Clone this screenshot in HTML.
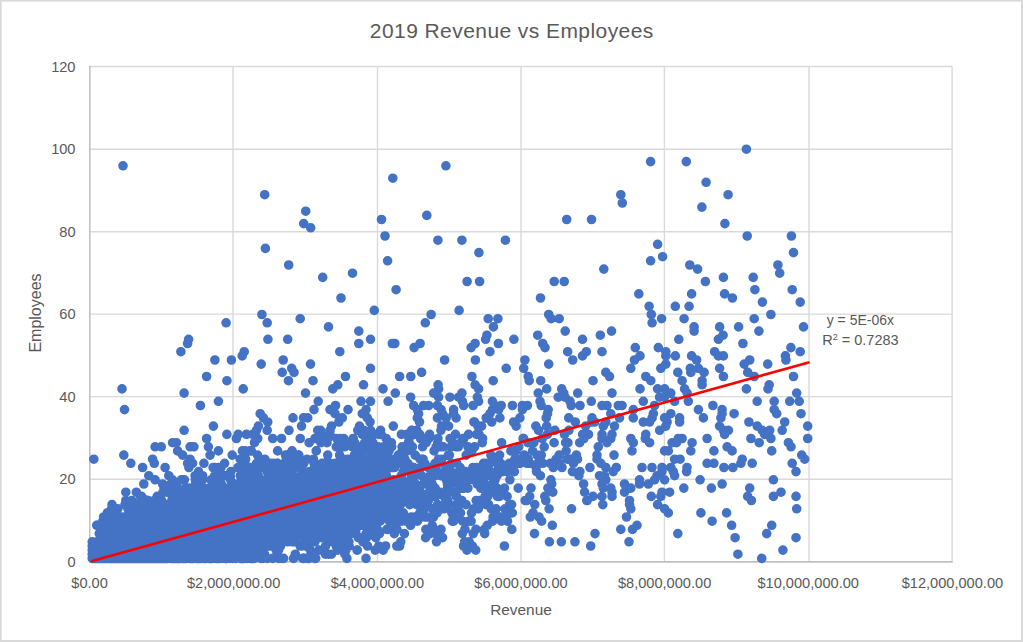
<!DOCTYPE html>
<html><head><meta charset="utf-8"><title>2019 Revenue vs Employees</title>
<style>
html,body{margin:0;padding:0;background:#fff;}
body{width:1023px;height:642px;overflow:hidden;font-family:"Liberation Sans",sans-serif;}
svg{display:block;}
text{font-family:"Liberation Sans",sans-serif;fill:#595959;}
</style></head><body>
<svg width="1023" height="642" viewBox="0 0 1023 642">
<rect x="0" y="0" width="1023" height="642" fill="#d9d9d9"/>
<rect x="1.7" y="1.6" width="1019.3" height="638.4" fill="#ffffff"/>
<g stroke="#d9d9d9" stroke-width="1.4" fill="none"><line x1="233.0" y1="66.5" x2="233.0" y2="561.7"/><line x1="377.5" y1="66.5" x2="377.5" y2="561.7"/><line x1="521.0" y1="66.5" x2="521.0" y2="561.7"/><line x1="664.4" y1="66.5" x2="664.4" y2="561.7"/><line x1="809.0" y1="66.5" x2="809.0" y2="561.7"/><line x1="952.1" y1="66.5" x2="952.1" y2="561.7"/><line x1="89.8" y1="66.5" x2="952.1" y2="66.5"/><line x1="89.8" y1="149.2" x2="952.1" y2="149.2"/><line x1="89.8" y1="231.7" x2="952.1" y2="231.7"/><line x1="89.8" y1="314.1" x2="952.1" y2="314.1"/><line x1="89.8" y1="396.6" x2="952.1" y2="396.6"/><line x1="89.8" y1="479.2" x2="952.1" y2="479.2"/></g>
<line x1="89.8" y1="65.8" x2="89.8" y2="562.7" stroke="#bfbfbf" stroke-width="1.5"/>
<line x1="89.05" y1="561.9" x2="952.8" y2="561.9" stroke="#bfbfbf" stroke-width="1.9"/>
<path d="M120.6 533.6h.01M262.6 508.8h.01M249.1 537.7h.01M261.9 517.0h.01M528.2 459.2h.01M266.6 517.0h.01M298.8 455.1h.01M273.6 500.5h.01M172.5 517.0h.01M233.1 533.6h.01M152.1 541.8h.01M393.8 479.8h.01M149.9 554.2h.01M235.2 521.2h.01M320.7 475.7h.01M141.9 529.4h.01M221.4 541.8h.01M143.9 550.1h.01M584.6 492.2h.01M419.7 434.4h.01M254.7 484.0h.01M246.5 479.8h.01M92.6 558.4h.01M184.0 541.8h.01M116.0 554.2h.01M424.8 438.5h.01M341.2 504.6h.01M179.2 512.9h.01M313.5 459.2h.01M283.2 525.3h.01M316.6 504.6h.01M335.7 496.4h.01M177.0 537.7h.01M375.0 492.2h.01M115.1 554.2h.01M476.2 500.5h.01M116.1 541.8h.01M163.0 492.2h.01M148.0 546.0h.01M96.2 558.4h.01M166.6 558.4h.01M325.7 500.5h.01M585.6 426.1h.01M318.3 525.3h.01M159.6 541.8h.01M112.3 550.1h.01M384.0 463.3h.01M381.2 467.5h.01M133.1 554.2h.01M227.6 541.8h.01M297.8 517.0h.01M185.8 529.4h.01M336.2 546.0h.01M110.2 558.4h.01M453.3 517.0h.01M111.9 537.7h.01M505.8 517.0h.01M139.4 546.0h.01M117.0 550.1h.01M186.1 496.4h.01M105.1 537.7h.01M173.3 554.2h.01M124.4 558.4h.01M433.0 467.5h.01M263.7 541.8h.01M185.3 541.8h.01M417.2 504.6h.01M122.0 554.2h.01M99.6 546.0h.01M357.9 446.8h.01M248.4 504.6h.01M252.6 512.9h.01M477.1 484.0h.01M305.8 488.1h.01M360.6 521.2h.01M207.0 508.8h.01M369.0 459.2h.01M163.3 512.9h.01M134.9 546.0h.01M165.2 554.2h.01M226.4 533.6h.01M107.2 554.2h.01M234.0 521.2h.01M160.4 533.6h.01M174.3 537.7h.01M380.9 504.6h.01M155.2 550.1h.01M137.6 550.1h.01M97.1 546.0h.01M170.6 546.0h.01M92.2 558.4h.01M115.3 554.2h.01M144.9 546.0h.01M100.6 558.4h.01M377.2 450.9h.01M355.8 492.2h.01M131.9 550.1h.01M267.0 471.6h.01M102.9 558.4h.01M535.8 426.1h.01M303.7 529.4h.01M389.7 442.7h.01M108.3 558.4h.01M111.0 550.1h.01M128.2 558.4h.01M385.3 488.1h.01M217.6 550.1h.01M371.7 496.4h.01M195.0 525.3h.01M468.0 446.8h.01M235.6 537.7h.01M175.9 525.3h.01M417.9 492.2h.01M104.5 550.1h.01M120.1 554.2h.01M115.6 558.4h.01M238.4 529.4h.01M196.5 533.6h.01M209.0 558.4h.01M176.6 558.4h.01M206.9 517.0h.01M139.1 537.7h.01M99.2 533.6h.01M110.3 537.7h.01M235.8 488.1h.01M138.7 529.4h.01M129.3 546.0h.01M99.9 558.4h.01M371.0 442.7h.01M251.1 517.0h.01M290.0 504.6h.01M206.8 550.1h.01M362.0 467.5h.01M298.6 467.5h.01M282.2 521.2h.01M134.5 554.2h.01M107.1 558.4h.01M279.8 508.8h.01M93.2 550.1h.01M214.1 537.7h.01M162.7 554.2h.01M286.0 492.2h.01M238.0 508.8h.01M123.8 554.2h.01M104.4 558.4h.01M177.9 537.7h.01M254.9 504.6h.01M317.3 521.2h.01M111.5 546.0h.01M257.5 455.1h.01M400.8 541.8h.01M409.0 438.5h.01M222.2 517.0h.01M172.3 533.6h.01M354.2 492.2h.01M358.5 446.8h.01M374.8 521.2h.01M205.0 525.3h.01M256.6 517.0h.01M196.1 554.2h.01M385.9 471.6h.01M161.6 537.7h.01M243.5 546.0h.01M259.5 550.1h.01M562.0 467.5h.01M188.8 541.8h.01M130.2 558.4h.01M280.5 508.8h.01M147.3 537.7h.01M168.2 537.7h.01M281.8 525.3h.01M526.9 463.3h.01M326.8 496.4h.01M536.5 471.6h.01M426.2 442.7h.01M283.1 471.6h.01M140.4 533.6h.01M101.3 554.2h.01M300.1 496.4h.01M105.8 537.7h.01M294.3 521.2h.01M101.4 550.1h.01M165.6 537.7h.01M417.0 488.1h.01M380.5 500.5h.01M348.0 496.4h.01M275.7 521.2h.01M269.9 496.4h.01M239.9 517.0h.01M229.9 529.4h.01M92.2 554.2h.01M168.9 517.0h.01M182.6 504.6h.01M129.2 541.8h.01M155.4 554.2h.01M123.0 541.8h.01M110.7 546.0h.01M239.7 546.0h.01M242.7 529.4h.01M179.9 541.8h.01M187.8 533.6h.01M422.3 496.4h.01M314.2 541.8h.01M275.1 529.4h.01M181.0 529.4h.01M365.9 471.6h.01M150.1 533.6h.01M312.4 475.7h.01M321.2 492.2h.01M208.6 541.8h.01M112.6 550.1h.01M255.1 533.6h.01M533.0 512.9h.01M244.8 463.3h.01M128.7 550.1h.01M413.2 484.0h.01M328.9 512.9h.01M119.2 546.0h.01M456.6 496.4h.01M575.3 422.0h.01M244.0 525.3h.01M163.5 541.8h.01M347.7 467.5h.01M154.7 550.1h.01M295.6 529.4h.01M365.1 434.4h.01M201.9 529.4h.01M452.9 442.7h.01M121.2 537.7h.01M287.6 541.8h.01M313.0 488.1h.01M172.8 550.1h.01M102.6 554.2h.01M269.2 467.5h.01M345.4 488.1h.01M177.8 525.3h.01M92.2 558.4h.01M159.1 533.6h.01M216.4 558.4h.01M363.4 512.9h.01M135.1 558.4h.01M197.4 550.1h.01M310.8 529.4h.01M380.0 504.6h.01M409.4 496.4h.01M95.8 550.1h.01M232.9 500.5h.01M301.0 512.9h.01M223.5 537.7h.01M233.7 504.6h.01M242.1 521.2h.01M176.5 546.0h.01M194.7 537.7h.01M243.7 525.3h.01M366.5 488.1h.01M108.7 550.1h.01M199.3 521.2h.01M532.6 450.9h.01M276.6 525.3h.01M251.9 537.7h.01M178.0 533.6h.01M123.9 558.4h.01M448.6 426.1h.01M124.5 517.0h.01M150.3 554.2h.01M98.2 558.4h.01M93.9 550.1h.01M208.4 521.2h.01M172.5 479.8h.01M271.1 533.6h.01M341.9 512.9h.01M328.9 508.8h.01M460.5 512.9h.01M183.7 546.0h.01M290.9 525.3h.01M320.4 508.8h.01M364.6 512.9h.01M518.2 488.1h.01M116.8 546.0h.01M229.5 525.3h.01M327.6 488.1h.01M218.9 541.8h.01M198.8 546.0h.01M157.1 541.8h.01M173.7 504.6h.01M327.4 484.0h.01M340.1 488.1h.01M148.8 558.4h.01M127.5 550.1h.01M226.0 496.4h.01M264.7 500.5h.01M382.7 492.2h.01M299.5 500.5h.01M118.4 558.4h.01M160.1 558.4h.01M277.7 508.8h.01M240.7 500.5h.01M270.1 525.3h.01M361.9 504.6h.01M265.1 533.6h.01M330.0 517.0h.01M370.5 533.6h.01M109.0 558.4h.01M105.3 533.6h.01M96.7 550.1h.01M246.9 504.6h.01M320.7 521.2h.01M466.2 455.1h.01M208.0 525.3h.01M147.9 537.7h.01M321.6 517.0h.01M492.5 484.0h.01M249.0 508.8h.01M143.8 546.0h.01M334.6 492.2h.01M135.2 541.8h.01M201.8 546.0h.01M410.9 479.8h.01M124.0 558.4h.01M398.2 521.2h.01M249.6 533.6h.01M121.9 550.1h.01M100.1 558.4h.01M288.1 521.2h.01M279.4 488.1h.01M94.2 558.4h.01M283.6 558.4h.01M92.2 558.4h.01M186.4 529.4h.01M184.5 537.7h.01M116.6 537.7h.01M190.6 525.3h.01M92.5 554.2h.01M215.5 521.2h.01M127.3 537.7h.01M255.5 529.4h.01M100.9 558.4h.01M292.2 504.6h.01M298.7 455.1h.01M128.6 546.0h.01M203.2 558.4h.01M399.6 546.0h.01M353.5 500.5h.01M339.6 455.1h.01M223.6 521.2h.01M97.6 558.4h.01M166.2 517.0h.01M383.1 496.4h.01M175.4 508.8h.01M305.7 537.7h.01M170.0 541.8h.01M361.8 500.5h.01M232.3 508.8h.01M118.7 529.4h.01M200.5 529.4h.01M161.5 529.4h.01M194.4 541.8h.01M101.1 558.4h.01M108.1 554.2h.01M92.2 550.1h.01M215.5 521.2h.01M196.1 554.2h.01M301.6 508.8h.01M177.3 496.4h.01M236.8 529.4h.01M336.1 500.5h.01M159.9 521.2h.01M299.7 517.0h.01M136.5 546.0h.01M294.7 525.3h.01M437.0 471.6h.01M419.9 512.9h.01M197.0 521.2h.01M530.3 517.0h.01M295.5 525.3h.01M323.6 529.4h.01M202.1 521.2h.01M525.2 500.5h.01M484.5 484.0h.01M246.1 529.4h.01M150.7 525.3h.01M125.7 546.0h.01M362.5 492.2h.01M228.7 488.1h.01M96.8 541.8h.01M211.0 517.0h.01M107.6 558.4h.01M92.2 558.4h.01M142.0 554.2h.01M94.8 558.4h.01M305.6 546.0h.01M98.8 558.4h.01M214.0 537.7h.01M164.5 550.1h.01M230.2 525.3h.01M160.6 533.6h.01M100.4 533.6h.01M469.1 541.8h.01M131.6 558.4h.01M281.5 512.9h.01M199.1 521.2h.01M392.8 521.2h.01M234.3 504.6h.01M343.0 463.3h.01M116.2 558.4h.01M225.0 546.0h.01M159.0 533.6h.01M111.2 546.0h.01M231.5 517.0h.01M98.4 558.4h.01M220.9 521.2h.01M342.2 512.9h.01M115.1 554.2h.01M268.3 484.0h.01M231.7 521.2h.01M132.2 550.1h.01M331.3 537.7h.01M102.5 558.4h.01M107.3 558.4h.01M383.6 475.7h.01M169.4 517.0h.01M198.9 500.5h.01M436.8 512.9h.01M271.7 512.9h.01M249.2 479.8h.01M124.4 550.1h.01M125.3 554.2h.01M261.3 496.4h.01M206.5 537.7h.01M106.4 546.0h.01M241.8 525.3h.01M285.6 463.3h.01M170.3 521.2h.01M129.0 558.4h.01M319.9 521.2h.01M188.6 521.2h.01M148.8 558.4h.01M171.3 541.8h.01M359.7 521.2h.01M146.3 558.4h.01M351.5 521.2h.01M435.4 475.7h.01M436.1 446.8h.01M121.1 558.4h.01M164.0 550.1h.01M219.8 558.4h.01M178.3 537.7h.01M105.3 558.4h.01M168.1 537.7h.01M139.3 541.8h.01M235.5 546.0h.01M280.9 517.0h.01M370.4 521.2h.01M424.8 463.3h.01M166.2 512.9h.01M156.6 541.8h.01M121.6 550.1h.01M99.4 550.1h.01M119.4 546.0h.01M134.1 521.2h.01M130.4 558.4h.01M483.6 463.3h.01M432.6 508.8h.01M202.8 537.7h.01M184.6 541.8h.01M428.5 500.5h.01M229.6 525.3h.01M352.7 492.2h.01M97.8 550.1h.01M298.9 525.3h.01M114.2 550.1h.01M310.3 550.1h.01M118.9 550.1h.01M289.2 479.8h.01M191.1 537.7h.01M99.5 525.3h.01M236.5 521.2h.01M96.2 550.1h.01M338.1 492.2h.01M186.6 537.7h.01M368.5 533.6h.01M390.3 508.8h.01M173.5 550.1h.01M268.4 517.0h.01M313.2 471.6h.01M246.4 521.2h.01M112.7 558.4h.01M146.7 550.1h.01M92.2 558.4h.01M298.6 521.2h.01M219.9 529.4h.01M313.6 517.0h.01M251.4 554.2h.01M129.3 554.2h.01M93.8 558.4h.01M131.2 541.8h.01M174.1 533.6h.01M199.8 550.1h.01M238.1 529.4h.01M463.3 475.7h.01M365.6 479.8h.01M425.2 517.0h.01M207.4 546.0h.01M568.9 430.3h.01M151.6 558.4h.01M277.4 525.3h.01M312.3 504.6h.01M226.6 512.9h.01M151.8 512.9h.01M351.2 508.8h.01M240.8 525.3h.01M124.4 541.8h.01M426.9 500.5h.01M134.6 529.4h.01M178.2 512.9h.01M133.0 521.2h.01M197.7 537.7h.01M111.7 558.4h.01M92.9 554.2h.01M206.4 533.6h.01M412.4 446.8h.01M239.9 484.0h.01M149.3 521.2h.01M430.3 533.6h.01M170.9 558.4h.01M192.5 546.0h.01M148.2 546.0h.01M379.5 533.6h.01M244.3 558.4h.01M111.4 554.2h.01M102.0 537.7h.01M145.3 550.1h.01M92.2 554.2h.01M352.4 521.2h.01M149.4 541.8h.01M184.7 546.0h.01M121.2 546.0h.01M162.0 541.8h.01M93.6 554.2h.01M339.0 533.6h.01M253.3 479.8h.01M394.9 496.4h.01M294.7 479.8h.01M287.0 455.1h.01M118.7 554.2h.01M405.9 446.8h.01M119.6 546.0h.01M332.1 525.3h.01M285.8 512.9h.01M229.4 508.8h.01M97.5 558.4h.01M152.7 558.4h.01M266.3 500.5h.01M175.5 550.1h.01M122.9 558.4h.01M148.3 546.0h.01M160.6 512.9h.01M115.4 550.1h.01M533.9 442.7h.01M117.9 550.1h.01M391.2 488.1h.01M165.8 525.3h.01M215.1 525.3h.01M128.0 554.2h.01M362.6 471.6h.01M434.7 508.8h.01M158.3 525.3h.01M237.6 496.4h.01M136.1 533.6h.01M309.5 496.4h.01M213.3 512.9h.01M381.0 517.0h.01M302.6 471.6h.01M127.2 554.2h.01M115.6 529.4h.01M110.5 533.6h.01M146.5 500.5h.01M305.4 521.2h.01M162.4 537.7h.01M148.9 554.2h.01M232.8 529.4h.01M439.0 463.3h.01M416.3 517.0h.01M180.8 537.7h.01M420.3 492.2h.01M153.6 521.2h.01M227.2 512.9h.01M189.2 554.2h.01M211.4 541.8h.01M143.6 554.2h.01M181.8 537.7h.01M217.7 508.8h.01M248.7 554.2h.01M291.3 517.0h.01M92.4 558.4h.01M157.3 554.2h.01M162.8 525.3h.01M147.4 537.7h.01M225.5 529.4h.01M315.1 529.4h.01M292.0 541.8h.01M122.1 558.4h.01M139.0 537.7h.01M255.4 541.8h.01M295.5 512.9h.01M238.7 525.3h.01M335.1 525.3h.01M108.2 546.0h.01M300.0 496.4h.01M143.8 554.2h.01M223.0 517.0h.01M121.1 550.1h.01M151.4 546.0h.01M164.7 554.2h.01M344.1 537.7h.01M268.5 517.0h.01M159.5 541.8h.01M288.0 479.8h.01M354.1 459.2h.01M292.9 525.3h.01M335.4 500.5h.01M234.4 488.1h.01M138.3 558.4h.01M103.0 558.4h.01M403.0 517.0h.01M307.0 492.2h.01M151.0 541.8h.01M183.1 525.3h.01M286.4 504.6h.01M112.9 529.4h.01M189.2 529.4h.01M249.9 517.0h.01M92.2 558.4h.01M93.2 550.1h.01M247.4 533.6h.01M578.9 475.7h.01M250.5 517.0h.01M252.3 504.6h.01M468.6 434.4h.01M163.8 546.0h.01M173.3 517.0h.01M241.8 521.2h.01M440.3 508.8h.01M116.3 550.1h.01M204.0 554.2h.01M154.4 500.5h.01M138.0 550.1h.01M459.0 471.6h.01M248.3 529.4h.01M146.0 537.7h.01M147.9 558.4h.01M396.0 496.4h.01M279.6 533.6h.01M94.4 558.4h.01M410.6 525.3h.01M273.9 500.5h.01M100.6 558.4h.01M313.3 525.3h.01M120.7 558.4h.01M209.6 504.6h.01M230.4 475.7h.01M201.4 537.7h.01M323.4 521.2h.01M294.1 508.8h.01M221.8 525.3h.01M106.8 541.8h.01M254.3 488.1h.01M144.1 541.8h.01M181.4 537.7h.01M139.2 541.8h.01M141.6 558.4h.01M336.0 492.2h.01M212.1 496.4h.01M145.1 558.4h.01M191.1 541.8h.01M490.9 455.1h.01M201.3 521.2h.01M178.5 550.1h.01M93.8 558.4h.01M493.4 475.7h.01M179.8 500.5h.01M126.5 550.1h.01M110.9 537.7h.01M141.4 541.8h.01M107.9 558.4h.01M115.7 558.4h.01M368.4 484.0h.01M212.0 517.0h.01M260.3 504.6h.01M235.3 525.3h.01M439.8 492.2h.01M335.5 475.7h.01M179.0 525.3h.01M264.2 541.8h.01M179.9 533.6h.01M355.2 517.0h.01M377.4 529.4h.01M210.6 512.9h.01M350.2 467.5h.01M414.6 434.4h.01M194.2 525.3h.01M142.7 546.0h.01M247.9 517.0h.01M103.2 554.2h.01M342.1 504.6h.01M465.3 471.6h.01M251.2 512.9h.01M289.0 521.2h.01M250.0 450.9h.01M498.4 467.5h.01M159.2 533.6h.01M208.3 529.4h.01M207.6 521.2h.01M260.9 541.8h.01M106.0 541.8h.01M479.0 434.4h.01M298.5 533.6h.01M113.0 558.4h.01M253.4 533.6h.01M260.6 533.6h.01M158.9 546.0h.01M307.1 521.2h.01M164.7 546.0h.01M203.6 554.2h.01M180.5 554.2h.01M194.0 558.4h.01M189.4 504.6h.01M130.5 558.4h.01M412.7 492.2h.01M123.1 525.3h.01M254.0 537.7h.01M132.3 533.6h.01M249.3 479.8h.01M241.7 500.5h.01M117.1 546.0h.01M369.2 512.9h.01M366.4 492.2h.01M111.5 554.2h.01M160.5 541.8h.01M192.3 558.4h.01M96.1 558.4h.01M212.7 512.9h.01M162.8 525.3h.01M161.6 500.5h.01M302.1 512.9h.01M278.4 496.4h.01M194.8 525.3h.01M130.0 529.4h.01M389.4 521.2h.01M135.5 529.4h.01M232.6 533.6h.01M188.8 525.3h.01M368.0 488.1h.01M250.6 500.5h.01M124.7 558.4h.01M210.0 525.3h.01M132.9 541.8h.01M257.7 512.9h.01M404.7 446.8h.01M266.4 546.0h.01M157.6 541.8h.01M198.7 529.4h.01M146.8 537.7h.01M242.3 533.6h.01M213.7 529.4h.01M326.6 488.1h.01M198.0 529.4h.01M134.9 529.4h.01M318.5 496.4h.01M157.4 546.0h.01M370.2 434.4h.01M234.0 492.2h.01M133.5 546.0h.01M270.4 463.3h.01M227.5 512.9h.01M269.6 537.7h.01M273.4 508.8h.01M402.1 446.8h.01M481.7 479.8h.01M313.8 488.1h.01M187.6 521.2h.01M98.2 554.2h.01M309.3 475.7h.01M333.2 479.8h.01M210.7 517.0h.01M519.3 463.3h.01M141.7 537.7h.01M372.2 479.8h.01M456.3 446.8h.01M117.5 541.8h.01M485.1 496.4h.01M141.6 558.4h.01M193.0 546.0h.01M186.8 504.6h.01M301.7 546.0h.01M93.0 558.4h.01M149.5 550.1h.01M235.8 504.6h.01M189.0 533.6h.01M238.4 533.6h.01M138.2 550.1h.01M93.6 558.4h.01M235.4 508.8h.01M101.0 558.4h.01M258.0 504.6h.01M132.6 546.0h.01M180.0 533.6h.01M156.1 541.8h.01M408.4 442.7h.01M373.4 525.3h.01M224.6 512.9h.01M387.2 529.4h.01M107.1 558.4h.01M186.6 541.8h.01M264.0 496.4h.01M145.2 533.6h.01M327.8 479.8h.01M96.6 558.4h.01M114.1 558.4h.01M131.3 558.4h.01M191.3 546.0h.01M136.3 554.2h.01M455.4 434.4h.01M158.4 521.2h.01M229.0 546.0h.01M198.4 529.4h.01M142.7 558.4h.01M108.6 533.6h.01M264.6 537.7h.01M224.5 533.6h.01M171.6 541.8h.01M331.5 554.2h.01M253.0 525.3h.01M121.6 558.4h.01M149.7 541.8h.01M143.6 537.7h.01M583.9 438.5h.01M480.7 488.1h.01M298.4 533.6h.01M118.9 533.6h.01M405.2 500.5h.01M145.9 537.7h.01M220.7 541.8h.01M103.4 550.1h.01M219.5 546.0h.01M109.1 554.2h.01M96.9 558.4h.01M190.9 521.2h.01M148.5 558.4h.01M267.5 517.0h.01M100.1 554.2h.01M285.7 512.9h.01M147.2 529.4h.01M139.9 529.4h.01M148.7 533.6h.01M169.2 541.8h.01M311.1 475.7h.01M317.7 537.7h.01M385.0 500.5h.01M275.9 484.0h.01M205.3 537.7h.01M238.1 533.6h.01M307.3 479.8h.01M125.5 558.4h.01M475.3 471.6h.01M166.1 546.0h.01M100.0 554.2h.01M339.1 442.7h.01M142.3 550.1h.01M165.2 550.1h.01M308.2 500.5h.01M296.5 521.2h.01M301.3 517.0h.01M109.3 537.7h.01M130.6 558.4h.01M242.0 529.4h.01M308.7 529.4h.01M239.5 517.0h.01M161.8 554.2h.01M211.7 512.9h.01M268.0 484.0h.01M242.6 529.4h.01M199.6 525.3h.01M290.2 504.6h.01M431.6 475.7h.01M415.7 492.2h.01M262.4 496.4h.01M409.7 504.6h.01M499.4 496.4h.01M113.7 533.6h.01M114.3 537.7h.01M141.5 537.7h.01M173.2 533.6h.01M128.9 512.9h.01M304.7 525.3h.01M143.2 546.0h.01M144.8 541.8h.01M149.2 550.1h.01M384.1 496.4h.01M441.5 426.1h.01M304.3 525.3h.01M177.7 488.1h.01M146.9 554.2h.01M119.3 537.7h.01M123.5 529.4h.01M315.6 475.7h.01M142.1 554.2h.01M290.9 529.4h.01M92.2 554.2h.01M216.4 533.6h.01M310.0 496.4h.01M246.8 541.8h.01M387.8 508.8h.01M130.3 525.3h.01M107.0 558.4h.01M305.7 496.4h.01M339.6 471.6h.01M248.8 517.0h.01M253.7 537.7h.01M376.3 459.2h.01M153.3 550.1h.01M210.9 517.0h.01M121.9 554.2h.01M176.6 541.8h.01M358.0 521.2h.01M106.8 533.6h.01M464.6 541.8h.01M269.1 525.3h.01M316.2 450.9h.01M310.2 479.8h.01M131.7 500.5h.01M144.2 525.3h.01M168.1 554.2h.01M176.3 525.3h.01M134.5 533.6h.01M140.1 529.4h.01M218.8 533.6h.01M106.8 554.2h.01M151.9 558.4h.01M230.0 558.4h.01M237.1 525.3h.01M416.7 504.6h.01M193.3 533.6h.01M199.0 529.4h.01M411.9 430.3h.01M195.7 521.2h.01M502.4 471.6h.01M190.2 541.8h.01M174.3 529.4h.01M206.7 554.2h.01M102.8 521.2h.01M408.2 488.1h.01M338.3 479.8h.01M112.4 558.4h.01M372.5 533.6h.01M377.5 521.2h.01M139.9 537.7h.01M332.9 475.7h.01M242.9 529.4h.01M487.7 496.4h.01M148.4 529.4h.01M302.0 467.5h.01M386.8 529.4h.01M267.9 521.2h.01M263.3 500.5h.01M261.2 533.6h.01M196.6 558.4h.01M391.4 442.7h.01M336.4 517.0h.01M179.3 529.4h.01M254.6 500.5h.01M120.8 558.4h.01M407.8 463.3h.01M173.9 529.4h.01M266.8 546.0h.01M195.6 529.4h.01M226.1 529.4h.01M464.9 529.4h.01M177.7 546.0h.01M332.3 537.7h.01M196.7 529.4h.01M198.0 533.6h.01M175.5 537.7h.01M484.3 529.4h.01M274.9 467.5h.01M366.6 537.7h.01M106.3 525.3h.01M153.5 537.7h.01M199.7 521.2h.01M103.6 517.0h.01M127.4 521.2h.01M249.8 508.8h.01M537.1 455.1h.01M307.7 529.4h.01M283.6 508.8h.01M92.2 554.2h.01M361.3 496.4h.01M169.3 529.4h.01M201.5 508.8h.01M138.0 550.1h.01M100.3 558.4h.01M169.6 533.6h.01M179.8 529.4h.01M126.1 558.4h.01M326.2 500.5h.01M173.8 517.0h.01M224.5 537.7h.01M511.6 504.6h.01M178.3 554.2h.01M104.1 558.4h.01M356.8 504.6h.01M287.7 508.8h.01M156.8 533.6h.01M281.2 521.2h.01M92.2 558.4h.01M337.6 496.4h.01M306.7 484.0h.01M284.0 471.6h.01M125.9 554.2h.01M115.9 546.0h.01M376.0 496.4h.01M102.0 558.4h.01M292.1 504.6h.01M219.1 504.6h.01M185.7 517.0h.01M97.6 554.2h.01M94.7 554.2h.01M262.3 525.3h.01M363.8 541.8h.01M138.7 558.4h.01M255.8 537.7h.01M138.5 546.0h.01M265.6 517.0h.01M386.6 517.0h.01M490.3 471.6h.01M140.2 533.6h.01M132.2 558.4h.01M92.2 558.4h.01M259.2 529.4h.01M229.9 508.8h.01M253.6 512.9h.01M277.2 521.2h.01M356.2 521.2h.01M201.3 541.8h.01M285.2 521.2h.01M122.0 554.2h.01M336.5 504.6h.01M94.5 558.4h.01M346.9 558.4h.01M287.9 525.3h.01M155.3 554.2h.01M144.1 541.8h.01M384.2 488.1h.01M304.1 558.4h.01M171.8 517.0h.01M224.1 521.2h.01M395.9 504.6h.01M143.7 550.1h.01M361.0 459.2h.01M203.5 504.6h.01M243.9 512.9h.01M163.9 558.4h.01M105.5 546.0h.01M362.9 471.6h.01M373.9 496.4h.01M269.0 467.5h.01M200.8 558.4h.01M272.2 512.9h.01M283.5 512.9h.01M477.1 467.5h.01M125.5 550.1h.01M260.0 508.8h.01M301.9 508.8h.01M339.9 492.2h.01M226.2 508.8h.01M235.1 488.1h.01M222.3 546.0h.01M101.2 558.4h.01M186.3 521.2h.01M406.1 521.2h.01M169.3 550.1h.01M124.8 533.6h.01M137.0 529.4h.01M264.8 459.2h.01M360.2 512.9h.01M182.3 504.6h.01M189.5 517.0h.01M167.5 537.7h.01M367.0 492.2h.01M304.1 488.1h.01M162.2 525.3h.01M127.5 541.8h.01M167.1 525.3h.01M314.9 508.8h.01M117.4 558.4h.01M559.1 455.1h.01M197.4 533.6h.01M135.5 546.0h.01M106.2 550.1h.01M132.8 558.4h.01M340.9 475.7h.01M107.9 546.0h.01M173.5 550.1h.01M194.9 541.8h.01M489.9 463.3h.01M306.1 525.3h.01M402.6 463.3h.01M146.9 537.7h.01M267.2 537.7h.01M234.9 525.3h.01M129.6 533.6h.01M346.6 533.6h.01M230.3 508.8h.01M107.4 554.2h.01M343.4 508.8h.01M197.2 554.2h.01M315.4 496.4h.01M299.3 512.9h.01M402.4 479.8h.01M146.0 529.4h.01M169.8 521.2h.01M152.3 546.0h.01M101.6 554.2h.01M137.0 529.4h.01M401.5 496.4h.01M250.6 558.4h.01M194.8 529.4h.01M245.6 541.8h.01M164.4 537.7h.01M310.7 521.2h.01M144.7 541.8h.01M172.6 546.0h.01M168.3 529.4h.01M495.1 479.8h.01M98.5 558.4h.01M124.0 550.1h.01M138.1 554.2h.01M140.9 546.0h.01M348.3 512.9h.01M181.4 554.2h.01M314.8 558.4h.01M235.3 488.1h.01M142.8 550.1h.01M346.4 537.7h.01M100.2 558.4h.01M200.2 537.7h.01M118.2 533.6h.01M336.7 529.4h.01M318.6 537.7h.01M355.3 484.0h.01M137.2 554.2h.01M261.6 529.4h.01M140.8 558.4h.01M140.7 533.6h.01M253.9 500.5h.01M179.7 500.5h.01M125.4 550.1h.01M424.5 508.8h.01M347.4 479.8h.01M188.3 500.5h.01M289.6 533.6h.01M272.6 525.3h.01M341.4 446.8h.01M442.9 508.8h.01M223.8 525.3h.01M205.8 525.3h.01M274.6 541.8h.01M110.8 558.4h.01M100.5 554.2h.01M134.3 558.4h.01M157.1 517.0h.01M281.5 479.8h.01M276.9 550.1h.01M249.3 512.9h.01M107.0 558.4h.01M359.0 537.7h.01M470.5 471.6h.01M174.8 508.8h.01M508.4 467.5h.01M113.6 537.7h.01M290.4 517.0h.01M374.2 512.9h.01M228.4 537.7h.01M174.0 554.2h.01M148.5 537.7h.01M331.7 512.9h.01M152.0 554.2h.01M127.8 521.2h.01M206.3 533.6h.01M427.6 504.6h.01M252.8 541.8h.01M356.0 529.4h.01M119.1 550.1h.01M156.8 554.2h.01M264.4 504.6h.01M220.0 525.3h.01M347.1 488.1h.01M244.5 508.8h.01M115.7 546.0h.01M134.5 558.4h.01M134.4 546.0h.01M152.2 508.8h.01M311.8 521.2h.01M294.0 529.4h.01M534.5 533.6h.01M130.4 558.4h.01M446.7 467.5h.01M422.6 446.8h.01M392.9 508.8h.01M189.1 533.6h.01M278.3 533.6h.01M130.0 521.2h.01M392.0 459.2h.01M92.2 558.4h.01M295.0 517.0h.01M121.7 558.4h.01M277.7 537.7h.01M107.3 512.9h.01M136.1 558.4h.01M110.1 546.0h.01M407.9 492.2h.01M242.9 533.6h.01M104.2 558.4h.01M164.4 504.6h.01M173.0 537.7h.01M437.9 438.5h.01M210.5 541.8h.01M567.1 459.2h.01M294.4 537.7h.01M255.8 541.8h.01M282.6 504.6h.01M111.3 517.0h.01M98.5 554.2h.01M193.5 529.4h.01M241.1 504.6h.01M302.1 496.4h.01M145.0 550.1h.01M263.1 492.2h.01M145.5 558.4h.01M341.6 467.5h.01M133.3 541.8h.01M230.1 525.3h.01M96.3 558.4h.01M331.8 521.2h.01M390.1 521.2h.01M189.8 529.4h.01M317.9 471.6h.01M267.8 533.6h.01M128.3 546.0h.01M407.2 450.9h.01M143.6 554.2h.01M319.3 488.1h.01M565.6 442.7h.01M297.6 500.5h.01M248.1 554.2h.01M362.9 541.8h.01M144.7 533.6h.01M403.3 512.9h.01M109.3 546.0h.01M92.2 558.4h.01M125.0 558.4h.01M185.5 546.0h.01M345.2 508.8h.01M366.0 558.4h.01M194.6 546.0h.01M135.7 533.6h.01M310.5 492.2h.01M122.9 558.4h.01M202.4 554.2h.01M174.4 554.2h.01M250.8 546.0h.01M293.7 529.4h.01M307.6 479.8h.01M370.6 430.3h.01M416.2 488.1h.01M160.2 529.4h.01M95.5 554.2h.01M263.2 496.4h.01M154.3 541.8h.01M306.0 492.2h.01M231.8 517.0h.01M295.4 496.4h.01M181.3 479.8h.01M120.3 558.4h.01M297.9 508.8h.01M319.0 550.1h.01M172.1 496.4h.01M206.2 541.8h.01M190.3 550.1h.01M132.7 517.0h.01M380.2 521.2h.01M272.0 512.9h.01M109.7 541.8h.01M301.2 533.6h.01M467.6 479.8h.01M280.1 533.6h.01M207.5 550.1h.01M130.0 533.6h.01M101.2 550.1h.01M399.8 496.4h.01M118.6 550.1h.01M114.4 558.4h.01M173.6 529.4h.01M350.4 496.4h.01M316.7 512.9h.01M234.4 533.6h.01M133.7 546.0h.01M303.3 479.8h.01M92.8 546.0h.01M104.9 554.2h.01M340.8 500.5h.01M163.4 541.8h.01M110.6 558.4h.01M205.2 546.0h.01M193.7 508.8h.01M144.6 558.4h.01M351.5 500.5h.01M154.6 558.4h.01M244.3 504.6h.01M396.8 546.0h.01M247.4 529.4h.01M95.8 550.1h.01M95.3 550.1h.01M167.8 533.6h.01M231.5 550.1h.01M97.7 546.0h.01M216.7 541.8h.01M126.0 554.2h.01M405.7 484.0h.01M131.5 554.2h.01M158.9 521.2h.01M94.9 558.4h.01M372.3 434.4h.01M174.6 550.1h.01M289.4 521.2h.01M114.9 541.8h.01M461.8 500.5h.01M239.3 537.7h.01M238.8 537.7h.01M129.8 554.2h.01M343.4 496.4h.01M240.5 541.8h.01M380.3 508.8h.01M385.8 455.1h.01M163.6 521.2h.01M170.8 558.4h.01M177.3 541.8h.01M281.3 558.4h.01M450.3 492.2h.01M140.9 537.7h.01M244.2 529.4h.01M312.2 500.5h.01M239.8 500.5h.01M223.8 512.9h.01M113.6 529.4h.01M334.2 479.8h.01M139.7 558.4h.01M417.8 488.1h.01M96.0 554.2h.01M187.5 537.7h.01M207.5 521.2h.01M149.0 546.0h.01M194.3 550.1h.01M225.9 533.6h.01M255.2 550.1h.01M160.3 517.0h.01M287.3 496.4h.01M167.0 541.8h.01M273.4 529.4h.01M270.6 546.0h.01M266.3 512.9h.01M364.0 430.3h.01M191.9 537.7h.01M152.9 550.1h.01M212.8 537.7h.01M249.3 471.6h.01M130.9 558.4h.01M164.1 529.4h.01M227.8 521.2h.01M216.0 541.8h.01M199.6 529.4h.01M118.8 525.3h.01M471.9 450.9h.01M287.8 488.1h.01M117.1 546.0h.01M127.1 550.1h.01M421.2 517.0h.01M378.5 463.3h.01M170.7 554.2h.01M355.7 508.8h.01M297.5 529.4h.01M340.2 500.5h.01M179.8 529.4h.01M122.3 558.4h.01M112.7 533.6h.01M362.4 488.1h.01M162.5 546.0h.01M343.7 504.6h.01M225.6 508.8h.01M321.5 504.6h.01M95.6 546.0h.01M258.8 500.5h.01M172.2 537.7h.01M245.8 521.2h.01M244.1 508.8h.01M207.4 492.2h.01M344.6 525.3h.01M104.3 550.1h.01M244.4 529.4h.01M97.4 541.8h.01M167.3 546.0h.01M370.4 459.2h.01M222.6 541.8h.01M92.2 558.4h.01M177.9 558.4h.01M391.0 463.3h.01M228.9 517.0h.01M473.7 508.8h.01M214.3 550.1h.01M437.1 512.9h.01M132.0 550.1h.01M342.5 512.9h.01M351.7 492.2h.01M106.3 554.2h.01M289.3 521.2h.01M93.3 554.2h.01M92.2 558.4h.01M244.8 537.7h.01M290.8 512.9h.01M148.4 558.4h.01M117.8 541.8h.01M337.5 512.9h.01M94.9 554.2h.01M115.8 554.2h.01M345.9 550.1h.01M139.3 550.1h.01M116.4 550.1h.01M349.3 500.5h.01M573.4 463.3h.01M209.1 496.4h.01M254.4 521.2h.01M121.4 550.1h.01M182.2 541.8h.01M460.0 467.5h.01M174.3 550.1h.01M318.4 517.0h.01M327.7 455.1h.01M164.2 537.7h.01M224.8 546.0h.01M207.8 508.8h.01M259.9 529.4h.01M175.7 525.3h.01M289.2 521.2h.01M212.7 500.5h.01M123.1 558.4h.01M210.9 554.2h.01M98.6 550.1h.01M92.2 558.4h.01M111.5 550.1h.01M99.8 558.4h.01M150.3 558.4h.01M97.3 558.4h.01M291.5 533.6h.01M95.8 554.2h.01M196.6 525.3h.01M113.3 529.4h.01M92.2 558.4h.01M119.2 558.4h.01M263.6 521.2h.01M459.7 471.6h.01M258.9 533.6h.01M369.9 475.7h.01M440.9 430.3h.01M251.7 558.4h.01M159.7 546.0h.01M278.5 512.9h.01M227.3 533.6h.01M231.1 517.0h.01M326.3 492.2h.01M200.9 558.4h.01M247.7 550.1h.01M116.1 554.2h.01M403.7 484.0h.01M155.7 521.2h.01M198.4 537.7h.01M173.1 554.2h.01M103.1 546.0h.01M209.7 521.2h.01M204.2 541.8h.01M104.8 558.4h.01M442.5 537.7h.01M105.1 558.4h.01M308.7 517.0h.01M192.0 550.1h.01M314.7 529.4h.01M94.2 558.4h.01M114.6 546.0h.01M230.7 533.6h.01M227.7 500.5h.01M94.8 558.4h.01M132.4 512.9h.01M207.1 533.6h.01M379.3 434.4h.01M92.2 558.4h.01M177.1 521.2h.01M169.1 525.3h.01M269.0 521.2h.01M144.2 525.3h.01M173.8 484.0h.01M199.5 488.1h.01M137.1 550.1h.01M109.5 541.8h.01M342.6 496.4h.01M137.7 558.4h.01M208.9 533.6h.01M114.8 541.8h.01M138.8 558.4h.01M98.9 550.1h.01M341.2 525.3h.01M344.8 446.8h.01M100.7 558.4h.01M255.2 512.9h.01M358.8 450.9h.01M143.9 537.7h.01M92.2 558.4h.01M187.9 537.7h.01M317.0 537.7h.01M270.2 484.0h.01M97.5 558.4h.01M439.4 533.6h.01M267.3 558.4h.01M150.5 537.7h.01M394.0 488.1h.01M249.5 492.2h.01M181.6 533.6h.01M333.8 525.3h.01M353.8 496.4h.01M193.7 488.1h.01M233.1 512.9h.01M99.5 550.1h.01M228.6 525.3h.01M149.6 546.0h.01M113.3 537.7h.01M114.6 512.9h.01M342.8 479.8h.01M401.2 475.7h.01M280.6 517.0h.01M279.3 484.0h.01M586.8 500.5h.01M118.0 554.2h.01M209.7 529.4h.01M112.0 558.4h.01M98.0 550.1h.01M151.6 533.6h.01M99.7 558.4h.01M295.8 533.6h.01M248.0 554.2h.01M131.1 558.4h.01M237.2 529.4h.01M355.4 475.7h.01M187.3 554.2h.01M376.5 492.2h.01M356.3 525.3h.01M257.4 512.9h.01M110.5 558.4h.01M500.1 517.0h.01M312.5 529.4h.01M281.0 529.4h.01M428.2 484.0h.01M179.5 541.8h.01M92.2 558.4h.01M292.5 529.4h.01M229.0 525.3h.01M159.3 529.4h.01M218.0 521.2h.01M128.3 550.1h.01M140.6 550.1h.01M167.4 546.0h.01M293.8 508.8h.01M301.1 525.3h.01M109.9 541.8h.01M151.5 541.8h.01M449.4 455.1h.01M119.8 521.2h.01M401.4 434.4h.01M113.8 558.4h.01M140.5 541.8h.01M207.9 529.4h.01M338.4 496.4h.01M199.5 517.0h.01M313.2 512.9h.01M316.1 500.5h.01M269.8 496.4h.01M322.3 529.4h.01M267.5 529.4h.01M147.6 558.4h.01M135.5 550.1h.01M553.3 467.5h.01M343.3 525.3h.01M157.8 550.1h.01M322.6 475.7h.01M141.5 496.4h.01M173.4 533.6h.01M208.7 517.0h.01M399.1 508.8h.01M180.3 504.6h.01M150.6 525.3h.01M286.9 517.0h.01M282.0 525.3h.01M208.7 529.4h.01M250.4 525.3h.01M148.6 521.2h.01M213.6 541.8h.01M150.5 537.7h.01M211.2 541.8h.01M450.8 446.8h.01M137.7 558.4h.01M297.9 529.4h.01M235.7 558.4h.01M95.4 546.0h.01M419.1 517.0h.01M202.2 554.2h.01M136.4 558.4h.01M96.3 554.2h.01M170.4 558.4h.01M113.4 517.0h.01M245.0 533.6h.01M111.2 558.4h.01M352.2 525.3h.01M349.1 546.0h.01M101.3 550.1h.01M231.8 517.0h.01M120.4 546.0h.01M92.2 550.1h.01M305.4 529.4h.01M170.8 533.6h.01M296.2 512.9h.01M199.2 541.8h.01M158.8 517.0h.01M334.4 512.9h.01M103.9 546.0h.01M188.9 533.6h.01M128.3 533.6h.01M196.5 508.8h.01M278.3 500.5h.01M97.6 554.2h.01M258.6 467.5h.01M311.9 533.6h.01M127.1 546.0h.01M165.3 533.6h.01M128.1 537.7h.01M261.2 463.3h.01M92.2 558.4h.01M106.7 554.2h.01M229.4 554.2h.01M119.9 533.6h.01M141.3 541.8h.01M204.9 546.0h.01M104.7 550.1h.01M414.8 475.7h.01M304.6 537.7h.01M214.1 500.5h.01M216.6 537.7h.01M132.5 525.3h.01M475.1 475.7h.01M209.8 508.8h.01M330.2 492.2h.01M142.7 558.4h.01M105.4 550.1h.01M316.3 450.9h.01M279.0 541.8h.01M238.6 550.1h.01M361.7 475.7h.01M315.2 537.7h.01M101.3 558.4h.01M143.3 537.7h.01M291.6 529.4h.01M225.8 546.0h.01M102.1 554.2h.01M186.6 517.0h.01M147.4 521.2h.01M347.9 467.5h.01M121.7 554.2h.01M381.4 504.6h.01M397.4 496.4h.01M142.6 554.2h.01M190.4 533.6h.01M344.4 550.1h.01M125.7 541.8h.01M174.9 525.3h.01M161.1 537.7h.01M483.3 488.1h.01M197.3 550.1h.01M198.2 533.6h.01M374.7 488.1h.01M103.3 554.2h.01M100.5 554.2h.01M233.4 529.4h.01M99.6 558.4h.01M192.2 525.3h.01M188.9 541.8h.01M345.9 529.4h.01M115.3 558.4h.01M232.2 521.2h.01M207.8 550.1h.01M317.2 500.5h.01M153.6 533.6h.01M305.5 500.5h.01M100.4 550.1h.01M102.3 558.4h.01M337.9 488.1h.01M223.2 529.4h.01M283.0 504.6h.01M447.5 488.1h.01M108.3 558.4h.01M143.4 550.1h.01M235.0 525.3h.01M233.8 521.2h.01M102.4 546.0h.01M204.6 517.0h.01M157.9 537.7h.01M206.0 558.4h.01M188.5 533.6h.01M106.6 558.4h.01M300.6 500.5h.01M189.5 525.3h.01M439.2 463.3h.01M316.5 488.1h.01M130.1 537.7h.01M246.2 541.8h.01M294.3 512.9h.01M232.8 508.8h.01M259.7 517.0h.01M146.7 537.7h.01M156.4 546.0h.01M144.4 504.6h.01M385.4 467.5h.01M217.5 504.6h.01M264.5 554.2h.01M158.4 521.2h.01M220.1 541.8h.01M198.3 521.2h.01M234.5 525.3h.01M244.0 521.2h.01M117.1 546.0h.01M131.9 554.2h.01M175.4 554.2h.01M375.3 450.9h.01M223.4 537.7h.01M126.6 554.2h.01M200.1 492.2h.01M155.8 550.1h.01M135.2 517.0h.01M205.4 508.8h.01M187.7 533.6h.01M224.4 512.9h.01M165.6 517.0h.01M275.7 504.6h.01M285.8 504.6h.01M99.9 554.2h.01M212.3 533.6h.01M544.2 446.8h.01M381.6 500.5h.01M94.0 558.4h.01M317.6 512.9h.01M404.6 467.5h.01M272.7 517.0h.01M295.2 525.3h.01M378.9 492.2h.01M284.8 500.5h.01M387.5 463.3h.01M100.1 554.2h.01M281.1 525.3h.01M518.0 463.3h.01M159.3 508.8h.01M275.6 541.8h.01M169.5 508.8h.01M108.8 554.2h.01M236.7 537.7h.01M325.9 500.5h.01M307.8 558.4h.01M235.1 537.7h.01M112.1 554.2h.01M256.3 484.0h.01M252.0 558.4h.01M205.6 533.6h.01M275.1 517.0h.01M495.7 488.1h.01M266.0 529.4h.01M99.9 558.4h.01M141.4 554.2h.01M124.8 537.7h.01M198.7 541.8h.01M292.8 455.1h.01M139.0 546.0h.01M158.4 537.7h.01M98.1 554.2h.01M471.0 471.6h.01M407.3 492.2h.01M226.9 521.2h.01M99.6 550.1h.01M254.2 537.7h.01M139.4 558.4h.01M257.9 529.4h.01M372.1 512.9h.01M144.4 558.4h.01M158.8 541.8h.01M198.6 558.4h.01M110.8 558.4h.01M318.8 512.9h.01M227.0 525.3h.01M97.9 558.4h.01M287.5 529.4h.01M200.6 541.8h.01M161.3 521.2h.01M271.1 508.8h.01M111.8 554.2h.01M218.3 525.3h.01M369.1 492.2h.01M162.9 517.0h.01M288.2 492.2h.01M324.4 496.4h.01M184.2 546.0h.01M146.2 512.9h.01M337.1 496.4h.01M238.9 533.6h.01M94.1 558.4h.01M554.9 430.3h.01M226.3 558.4h.01M108.2 558.4h.01M367.7 442.7h.01M222.6 558.4h.01M200.2 479.8h.01M92.4 558.4h.01M113.5 541.8h.01M268.2 517.0h.01M307.9 517.0h.01M153.8 533.6h.01M475.7 550.1h.01M114.4 558.4h.01M331.1 508.8h.01M133.9 533.6h.01M236.6 488.1h.01M352.6 521.2h.01M344.0 512.9h.01M102.6 546.0h.01M365.4 521.2h.01M221.9 541.8h.01M347.5 459.2h.01M197.1 546.0h.01M109.9 558.4h.01M123.7 546.0h.01M115.5 558.4h.01M276.8 512.9h.01M97.8 550.1h.01M190.0 504.6h.01M373.3 475.7h.01M381.8 492.2h.01M233.8 529.4h.01M211.3 521.2h.01M178.7 529.4h.01M252.5 508.8h.01M127.0 541.8h.01M378.1 446.8h.01M167.6 517.0h.01M183.2 537.7h.01M301.7 500.5h.01M160.8 546.0h.01M213.6 550.1h.01M306.2 479.8h.01M160.0 558.4h.01M180.4 521.2h.01M128.5 550.1h.01M213.0 517.0h.01M95.5 558.4h.01M219.6 504.6h.01M123.2 558.4h.01M186.2 550.1h.01M388.4 512.9h.01M212.9 533.6h.01M231.8 504.6h.01M159.7 558.4h.01M104.5 529.4h.01M311.3 479.8h.01M158.5 554.2h.01M176.9 546.0h.01M150.7 550.1h.01M243.5 492.2h.01M152.6 550.1h.01M169.2 546.0h.01M104.6 537.7h.01M118.1 558.4h.01M250.5 533.6h.01M452.2 521.2h.01M267.4 512.9h.01M354.5 508.8h.01M190.1 525.3h.01M458.3 484.0h.01M98.7 558.4h.01M368.5 492.2h.01M130.7 558.4h.01M326.0 508.8h.01M550.9 479.8h.01M331.4 529.4h.01M142.5 541.8h.01M122.4 558.4h.01M354.8 496.4h.01M158.2 525.3h.01M302.4 496.4h.01M157.3 529.4h.01M219.2 529.4h.01M325.1 508.8h.01M150.8 525.3h.01M225.2 533.6h.01M212.2 488.1h.01M210.2 525.3h.01M140.6 496.4h.01M145.1 533.6h.01M435.8 533.6h.01M155.5 529.4h.01M252.1 533.6h.01M318.6 508.8h.01M151.7 504.6h.01M392.6 467.5h.01M99.5 541.8h.01M136.5 546.0h.01M259.4 529.4h.01M176.7 550.1h.01M252.5 529.4h.01M294.5 517.0h.01M415.5 484.0h.01M251.1 525.3h.01M201.4 500.5h.01M334.8 517.0h.01M292.3 512.9h.01M247.0 521.2h.01M184.4 541.8h.01M219.2 504.6h.01M192.1 521.2h.01M401.8 521.2h.01M167.5 541.8h.01M457.3 479.8h.01M422.4 463.3h.01M120.3 550.1h.01M172.0 554.2h.01M94.3 558.4h.01M212.4 500.5h.01M166.5 517.0h.01M140.0 533.6h.01M163.3 521.2h.01M216.5 533.6h.01M114.1 554.2h.01M213.0 541.8h.01M188.8 546.0h.01M254.1 521.2h.01M171.2 546.0h.01M364.1 504.6h.01M591.8 422.0h.01M236.3 533.6h.01M182.0 533.6h.01M223.2 504.6h.01M148.6 541.8h.01M231.2 533.6h.01M102.5 554.2h.01M219.7 537.7h.01M215.8 533.6h.01M293.2 496.4h.01M134.7 521.2h.01M271.6 525.3h.01M334.5 500.5h.01M140.3 541.8h.01M93.1 558.4h.01M156.9 533.6h.01M212.3 496.4h.01M567.9 442.7h.01M276.3 517.0h.01M123.3 546.0h.01M278.0 512.9h.01M207.3 525.3h.01M140.7 541.8h.01M187.6 496.4h.01M491.7 422.0h.01M342.4 512.9h.01M119.5 550.1h.01M286.1 521.2h.01M158.7 554.2h.01M105.2 558.4h.01M241.4 496.4h.01M534.8 504.6h.01M150.0 537.7h.01M195.1 475.7h.01M108.0 558.4h.01M406.3 446.8h.01M163.6 541.8h.01M232.9 500.5h.01M255.0 537.7h.01M165.3 517.0h.01M93.5 558.4h.01M254.8 500.5h.01M182.4 558.4h.01M359.6 471.6h.01M126.3 550.1h.01M462.7 521.2h.01M107.7 550.1h.01M220.1 512.9h.01M308.5 500.5h.01M222.4 517.0h.01M275.9 500.5h.01M390.4 488.1h.01M353.8 504.6h.01M325.5 517.0h.01M281.2 492.2h.01M445.8 500.5h.01M302.9 529.4h.01M303.6 475.7h.01M238.5 521.2h.01M117.3 546.0h.01M99.7 558.4h.01M523.6 438.5h.01M248.2 554.2h.01M467.9 488.1h.01M128.9 558.4h.01M182.9 550.1h.01M162.0 541.8h.01M275.1 500.5h.01M263.7 529.4h.01M438.8 463.3h.01M321.4 533.6h.01M280.2 504.6h.01M229.8 521.2h.01M349.8 521.2h.01M463.6 546.0h.01M172.4 546.0h.01M185.0 537.7h.01M120.4 541.8h.01M297.0 525.3h.01M92.2 558.4h.01M206.6 521.2h.01M122.7 546.0h.01M436.5 541.8h.01M239.4 521.2h.01M230.2 529.4h.01M321.8 533.6h.01M312.0 508.8h.01M175.1 550.1h.01M547.4 434.4h.01M236.0 541.8h.01M153.3 537.7h.01M247.8 508.8h.01M201.0 521.2h.01M124.1 558.4h.01M204.7 500.5h.01M117.2 550.1h.01M142.0 546.0h.01M107.6 550.1h.01M192.6 529.4h.01M142.4 558.4h.01M129.4 546.0h.01M476.0 529.4h.01M92.2 546.0h.01M135.3 537.7h.01M486.1 504.6h.01M215.7 541.8h.01M462.1 488.1h.01M338.7 500.5h.01M200.4 533.6h.01M195.4 537.7h.01M227.8 488.1h.01M336.5 504.6h.01M165.2 525.3h.01M162.1 558.4h.01M132.1 546.0h.01M164.6 558.4h.01M265.5 479.8h.01M123.4 558.4h.01M479.3 504.6h.01M222.7 512.9h.01M112.8 554.2h.01M221.9 529.4h.01M157.0 533.6h.01M315.8 475.7h.01M102.8 554.2h.01M327.8 500.5h.01M101.9 558.4h.01M368.8 475.7h.01M238.3 541.8h.01M99.8 558.4h.01M101.2 554.2h.01M133.6 554.2h.01M152.7 546.0h.01M139.4 537.7h.01M171.3 554.2h.01M354.3 496.4h.01M298.0 508.8h.01M122.7 554.2h.01M288.9 492.2h.01M346.8 533.6h.01M147.5 537.7h.01M280.7 504.6h.01M238.9 541.8h.01M377.0 446.8h.01M120.2 521.2h.01M92.2 558.4h.01M92.2 558.4h.01M300.2 546.0h.01M352.4 446.8h.01M206.3 512.9h.01M114.1 558.4h.01M112.4 541.8h.01M348.6 471.6h.01M150.3 541.8h.01M94.8 550.1h.01M177.2 521.2h.01M186.1 537.7h.01M372.7 442.7h.01M146.4 550.1h.01M353.4 517.0h.01M275.4 504.6h.01M109.7 537.7h.01M382.2 471.6h.01M92.8 558.4h.01M171.4 521.2h.01M183.9 525.3h.01M444.5 471.6h.01M237.3 521.2h.01M355.9 533.6h.01M269.7 492.2h.01M457.7 508.8h.01M346.3 479.8h.01M106.5 546.0h.01M265.7 512.9h.01M309.8 521.2h.01M113.9 546.0h.01M195.9 529.4h.01M155.5 541.8h.01M97.7 558.4h.01M344.8 529.4h.01M92.2 558.4h.01M216.3 537.7h.01M536.1 467.5h.01M268.0 512.9h.01M253.0 521.2h.01M201.1 558.4h.01M284.2 500.5h.01M136.7 546.0h.01M185.9 550.1h.01M318.9 500.5h.01M282.0 484.0h.01M129.1 558.4h.01M129.7 558.4h.01M110.7 533.6h.01M97.9 550.1h.01M163.1 517.0h.01M139.1 537.7h.01M421.5 475.7h.01M371.2 479.8h.01M92.2 558.4h.01M197.9 517.0h.01M291.8 500.5h.01M382.1 450.9h.01M210.2 492.2h.01M93.0 550.1h.01M243.0 558.4h.01M293.0 504.6h.01M160.7 533.6h.01M141.7 525.3h.01M360.1 521.2h.01M237.5 508.8h.01M340.2 504.6h.01M151.5 541.8h.01M172.7 529.4h.01M211.8 504.6h.01M335.6 521.2h.01M142.9 504.6h.01M96.8 558.4h.01M136.0 558.4h.01M435.7 496.4h.01M168.0 558.4h.01M202.9 550.1h.01M133.4 558.4h.01M271.9 484.0h.01M251.6 517.0h.01M125.1 554.2h.01M370.9 496.4h.01M97.1 558.4h.01M188.4 541.8h.01M430.9 492.2h.01M202.3 533.6h.01M246.3 546.0h.01M289.8 508.8h.01M98.3 558.4h.01M109.2 558.4h.01M109.1 546.0h.01M258.2 512.9h.01M134.0 550.1h.01M222.3 525.3h.01M165.7 508.8h.01M205.0 504.6h.01M204.8 508.8h.01M216.9 492.2h.01M185.1 525.3h.01M419.5 422.0h.01M158.6 537.7h.01M303.1 533.6h.01M248.6 512.9h.01M108.0 558.4h.01M129.5 554.2h.01M299.5 463.3h.01M258.3 525.3h.01M160.9 541.8h.01M323.1 533.6h.01M148.5 546.0h.01M273.3 492.2h.01M311.5 533.6h.01M253.1 525.3h.01M246.7 488.1h.01M130.5 558.4h.01M128.1 558.4h.01M265.8 508.8h.01M222.8 517.0h.01M206.5 529.4h.01M208.1 550.1h.01M181.6 525.3h.01M181.1 537.7h.01M95.1 554.2h.01M269.9 525.3h.01M159.8 541.8h.01M150.8 541.8h.01M284.1 488.1h.01M161.9 546.0h.01M375.8 537.7h.01M237.9 525.3h.01M263.4 504.6h.01M253.8 521.2h.01M489.1 488.1h.01M118.4 558.4h.01M231.6 512.9h.01M358.0 500.5h.01M122.2 529.4h.01M263.6 496.4h.01M195.8 512.9h.01M367.6 479.8h.01M366.3 484.0h.01M253.9 488.1h.01M159.0 558.4h.01M220.7 537.7h.01M92.2 558.4h.01M272.3 512.9h.01M184.1 558.4h.01M214.7 475.7h.01M240.7 492.2h.01M231.4 525.3h.01M236.6 504.6h.01M256.4 479.8h.01M116.9 558.4h.01M114.3 533.6h.01M178.2 554.2h.01M158.1 533.6h.01M192.4 521.2h.01M334.4 533.6h.01M221.1 484.0h.01M138.6 517.0h.01M227.6 504.6h.01M212.3 558.4h.01M92.4 558.4h.01M551.7 484.0h.01M218.4 533.6h.01M100.1 533.6h.01M179.3 541.8h.01M272.8 525.3h.01M307.7 529.4h.01M247.7 537.7h.01M238.0 467.5h.01M185.4 554.2h.01M125.4 533.6h.01M94.7 554.2h.01M163.9 537.7h.01M98.1 558.4h.01M376.9 504.6h.01M246.5 488.1h.01M135.8 554.2h.01M129.6 541.8h.01M344.9 554.2h.01M308.1 512.9h.01M266.8 504.6h.01M356.9 475.7h.01M163.4 517.0h.01M176.9 521.2h.01M105.0 558.4h.01M149.9 541.8h.01M141.2 541.8h.01M196.3 525.3h.01M429.3 479.8h.01M290.5 521.2h.01M97.2 550.1h.01M157.2 496.4h.01M574.9 541.8h.01M507.1 496.4h.01M168.4 554.2h.01M182.7 529.4h.01M294.5 537.7h.01M156.7 533.6h.01M293.3 475.7h.01M520.4 459.2h.01M153.7 533.6h.01M197.0 537.7h.01M94.5 550.1h.01M201.2 525.3h.01M192.0 529.4h.01M201.8 546.0h.01M221.2 484.0h.01M394.3 533.6h.01M158.1 546.0h.01M175.3 521.2h.01M138.0 541.8h.01M115.9 546.0h.01M253.4 508.8h.01M283.3 496.4h.01M170.1 533.6h.01M96.7 525.3h.01M250.8 450.9h.01M257.3 479.8h.01M144.9 546.0h.01M434.1 450.9h.01M118.7 558.4h.01M127.7 558.4h.01M211.6 533.6h.01M138.5 541.8h.01M95.4 554.2h.01M111.9 533.6h.01M182.2 492.2h.01M423.8 496.4h.01M316.4 467.5h.01M105.5 558.4h.01M155.0 558.4h.01M251.4 541.8h.01M254.5 442.7h.01M205.4 525.3h.01M228.5 512.9h.01M117.9 546.0h.01M102.7 533.6h.01M285.3 484.0h.01M265.4 525.3h.01M315.7 558.4h.01M142.8 529.4h.01M102.4 558.4h.01M374.3 529.4h.01M207.2 517.0h.01M339.7 508.8h.01M153.0 550.1h.01M171.2 541.8h.01M381.1 434.4h.01M92.2 558.4h.01M132.3 558.4h.01M314.6 512.9h.01M362.1 504.6h.01M134.8 554.2h.01M248.1 533.6h.01M103.8 554.2h.01M177.5 546.0h.01M100.5 550.1h.01M121.8 558.4h.01M220.7 504.6h.01M441.8 459.2h.01M261.5 488.1h.01M336.9 492.2h.01M185.6 488.1h.01M239.7 504.6h.01M424.0 484.0h.01M140.5 496.4h.01M114.2 550.1h.01M115.5 546.0h.01M431.3 492.2h.01M223.2 533.6h.01M326.0 463.3h.01M284.3 463.3h.01M122.3 558.4h.01M186.0 550.1h.01M157.0 541.8h.01M122.6 558.4h.01M268.1 471.6h.01M277.4 488.1h.01M97.2 554.2h.01M151.0 558.4h.01M202.0 546.0h.01M154.0 541.8h.01M176.2 550.1h.01M276.8 517.0h.01M105.9 546.0h.01M190.5 492.2h.01M125.8 529.4h.01M167.4 550.1h.01M135.6 504.6h.01M291.2 521.2h.01M114.0 558.4h.01M284.0 508.8h.01M205.6 558.4h.01M106.5 533.6h.01M233.5 512.9h.01M350.2 496.4h.01M176.0 554.2h.01M388.8 496.4h.01M205.7 529.4h.01M198.1 533.6h.01M105.7 550.1h.01M203.2 488.1h.01M174.1 492.2h.01M341.7 479.8h.01M127.2 537.7h.01M93.7 558.4h.01M183.7 541.8h.01M466.1 504.6h.01M514.4 471.6h.01M92.2 554.2h.01M579.9 471.6h.01M219.0 512.9h.01M309.4 471.6h.01M322.0 504.6h.01M382.8 517.0h.01M197.7 533.6h.01M247.2 500.5h.01M98.8 558.4h.01M286.6 512.9h.01M155.1 554.2h.01M405.4 467.5h.01M133.6 537.7h.01M209.2 537.7h.01M363.5 512.9h.01M206.8 529.4h.01M104.0 554.2h.01M109.2 537.7h.01M104.7 558.4h.01M216.9 508.8h.01M229.6 546.0h.01M195.4 500.5h.01M315.9 492.2h.01M123.1 525.3h.01M136.7 550.1h.01M107.8 554.2h.01M358.1 475.7h.01M243.2 484.0h.01M244.7 504.6h.01M101.6 554.2h.01M140.4 554.2h.01M104.5 537.7h.01M126.7 541.8h.01M333.4 537.7h.01M137.7 558.4h.01M175.6 541.8h.01M136.1 558.4h.01M193.3 554.2h.01M119.7 554.2h.01M206.1 537.7h.01M245.7 517.0h.01M274.2 504.6h.01M256.3 508.8h.01M221.3 541.8h.01M217.0 512.9h.01M101.1 558.4h.01M287.2 500.5h.01M226.5 529.4h.01M135.9 546.0h.01M192.1 550.1h.01M272.1 533.6h.01M353.2 438.5h.01M120.6 558.4h.01M272.6 471.6h.01M169.7 529.4h.01M364.8 475.7h.01M454.5 479.8h.01M137.8 529.4h.01M410.1 471.6h.01M236.2 488.1h.01M137.3 537.7h.01M387.7 463.3h.01M108.3 537.7h.01M271.4 517.0h.01M117.3 554.2h.01M310.6 471.6h.01M93.7 558.4h.01M217.2 475.7h.01M92.2 550.1h.01M299.0 521.2h.01M406.5 492.2h.01M187.4 537.7h.01M105.9 546.0h.01M101.7 558.4h.01M285.9 512.9h.01M332.8 484.0h.01M133.1 541.8h.01M208.2 512.9h.01M309.5 521.2h.01M123.0 558.4h.01M168.9 533.6h.01M165.1 525.3h.01M155.9 533.6h.01M256.0 467.5h.01M455.6 492.2h.01M126.2 558.4h.01M321.1 504.6h.01M216.7 529.4h.01M224.2 521.2h.01M290.4 529.4h.01M299.9 508.8h.01M242.1 500.5h.01M115.2 529.4h.01M204.0 521.2h.01M576.4 455.1h.01M192.7 541.8h.01M338.8 467.5h.01M106.6 558.4h.01M114.7 521.2h.01M257.4 550.1h.01M101.5 554.2h.01M411.1 517.0h.01M293.5 475.7h.01M104.3 558.4h.01M96.5 558.4h.01M92.2 558.4h.01M145.3 508.8h.01M103.6 550.1h.01M251.3 492.2h.01M153.1 558.4h.01M426.2 500.5h.01M175.0 512.9h.01M242.6 517.0h.01M458.3 446.8h.01M217.1 537.7h.01M156.3 525.3h.01M168.4 537.7h.01M322.2 500.5h.01M312.8 496.4h.01M478.5 484.0h.01M210.8 558.4h.01M357.7 430.3h.01M265.0 525.3h.01M99.0 558.4h.01M156.6 550.1h.01M489.6 488.1h.01M103.7 558.4h.01M311.3 496.4h.01M93.4 558.4h.01M211.6 554.2h.01M485.6 463.3h.01M256.1 525.3h.01M245.9 512.9h.01M216.1 517.0h.01M467.3 475.7h.01M95.6 558.4h.01M389.8 517.0h.01M117.6 558.4h.01M124.1 525.3h.01M169.1 550.1h.01M164.9 521.2h.01M219.7 492.2h.01M198.9 550.1h.01M288.6 525.3h.01M162.2 541.8h.01M230.6 508.8h.01M160.5 529.4h.01M260.2 512.9h.01M283.1 525.3h.01M493.7 492.2h.01M225.3 537.7h.01M141.8 508.8h.01M109.8 558.4h.01M176.8 529.4h.01M227.2 546.0h.01M365.5 475.7h.01M266.2 512.9h.01M92.3 558.4h.01M199.3 508.8h.01M198.6 471.6h.01M192.3 521.2h.01M270.4 525.3h.01M175.2 541.8h.01M322.4 504.6h.01M200.1 492.2h.01M513.6 422.0h.01M99.4 558.4h.01M256.2 504.6h.01M184.2 525.3h.01M122.8 558.4h.01M256.9 533.6h.01M218.9 554.2h.01M229.1 512.9h.01M156.6 533.6h.01M325.2 471.6h.01M462.9 438.5h.01M131.4 558.4h.01M337.7 550.1h.01M360.0 496.4h.01M258.9 525.3h.01M187.2 512.9h.01M223.8 541.8h.01M263.0 525.3h.01M117.8 508.8h.01M155.9 554.2h.01M248.8 550.1h.01M96.3 554.2h.01M274.0 508.8h.01M359.0 525.3h.01M461.1 500.5h.01M329.5 508.8h.01M161.1 533.6h.01M149.8 529.4h.01M160.7 550.1h.01M364.7 442.7h.01M92.8 558.4h.01M205.5 508.8h.01M109.5 521.2h.01M389.0 450.9h.01M132.5 550.1h.01M122.6 550.1h.01M125.8 541.8h.01M378.2 500.5h.01M244.9 537.7h.01M116.4 533.6h.01M249.7 488.1h.01M163.5 533.6h.01M110.0 546.0h.01M173.3 558.4h.01M116.2 550.1h.01M197.3 554.2h.01M204.1 546.0h.01M288.8 525.3h.01M171.5 533.6h.01M94.0 558.4h.01M140.3 550.1h.01M149.2 550.1h.01M449.9 488.1h.01M193.4 550.1h.01M401.0 484.0h.01M223.7 521.2h.01M100.3 558.4h.01M208.1 541.8h.01M333.7 537.7h.01M202.8 508.8h.01M189.9 537.7h.01M425.6 537.7h.01M196.1 537.7h.01M210.4 537.7h.01M129.5 550.1h.01M182.2 533.6h.01M284.4 479.8h.01M97.4 558.4h.01M125.8 541.8h.01M284.3 504.6h.01M119.4 537.7h.01M290.3 517.0h.01M298.1 521.2h.01M159.6 558.4h.01M448.3 455.1h.01M127.1 558.4h.01M188.1 546.0h.01M359.2 521.2h.01M357.1 504.6h.01M192.4 546.0h.01M509.2 463.3h.01M133.7 533.6h.01M208.5 546.0h.01M115.4 554.2h.01M227.9 521.2h.01M262.5 533.6h.01M289.7 488.1h.01M140.3 525.3h.01M224.8 512.9h.01M94.3 546.0h.01M118.3 554.2h.01M516.1 426.1h.01M156.2 558.4h.01M222.4 488.1h.01M128.6 541.8h.01M314.5 467.5h.01M339.2 546.0h.01M368.0 463.3h.01M104.6 537.7h.01M336.0 517.0h.01M117.2 554.2h.01M156.4 546.0h.01M188.0 554.2h.01M359.3 517.0h.01M203.6 508.8h.01M148.3 546.0h.01M228.9 500.5h.01M197.1 546.0h.01M133.0 541.8h.01M203.3 533.6h.01M218.3 529.4h.01M206.2 508.8h.01M474.4 422.0h.01M345.5 529.4h.01M336.7 438.5h.01M549.4 541.8h.01M164.2 550.1h.01M119.9 550.1h.01M159.4 558.4h.01M327.0 442.7h.01M299.2 521.2h.01M262.6 508.8h.01M110.1 558.4h.01M118.2 558.4h.01M332.4 496.4h.01M225.5 541.8h.01M111.2 537.7h.01M382.6 475.7h.01M371.5 471.6h.01M110.1 558.4h.01M165.9 558.4h.01M354.5 488.1h.01M146.8 500.5h.01M108.5 541.8h.01M206.0 541.8h.01M162.9 550.1h.01M121.3 550.1h.01M430.5 484.0h.01M131.5 550.1h.01M99.3 554.2h.01M235.8 525.3h.01M260.1 541.8h.01M333.0 475.7h.01M391.6 500.5h.01M259.8 533.6h.01M185.2 525.3h.01M215.3 537.7h.01M92.2 554.2h.01M243.8 529.4h.01M214.9 550.1h.01M303.5 525.3h.01M194.7 546.0h.01M128.8 541.8h.01M165.8 517.0h.01M328.8 525.3h.01M167.3 550.1h.01M108.7 554.2h.01M161.8 550.1h.01M321.8 512.9h.01M370.0 422.0h.01M226.9 554.2h.01M194.5 504.6h.01M168.5 546.0h.01M289.3 479.8h.01M161.7 546.0h.01M326.8 521.2h.01M184.9 512.9h.01M92.2 558.4h.01M360.8 521.2h.01M203.4 533.6h.01M169.5 525.3h.01M240.3 475.7h.01M134.1 517.0h.01M145.4 550.1h.01M372.0 479.8h.01M122.3 550.1h.01M181.2 533.6h.01M192.7 504.6h.01M161.4 521.2h.01M305.2 484.0h.01M115.9 533.6h.01M156.0 529.4h.01M136.8 546.0h.01M128.0 550.1h.01M348.7 521.2h.01M109.0 554.2h.01M297.5 492.2h.01M482.6 438.5h.01M146.1 533.6h.01M182.6 537.7h.01M230.5 479.8h.01M175.7 541.8h.01M92.2 558.4h.01M201.2 554.2h.01M111.1 550.1h.01M285.8 525.3h.01M294.0 517.0h.01M437.7 442.7h.01M231.3 529.4h.01M184.8 533.6h.01M267.8 529.4h.01M527.9 442.7h.01M229.7 488.1h.01M374.6 434.4h.01M234.8 537.7h.01M274.7 504.6h.01M95.7 558.4h.01M217.4 517.0h.01M108.4 558.4h.01M277.5 463.3h.01M361.4 488.1h.01M389.5 479.8h.01M308.0 521.2h.01M160.8 558.4h.01M440.0 446.8h.01M181.5 554.2h.01M99.1 558.4h.01M173.9 529.4h.01M225.8 517.0h.01M332.5 496.4h.01M173.6 550.1h.01M203.7 521.2h.01M274.5 521.2h.01M155.1 521.2h.01M111.9 533.6h.01M92.2 554.2h.01M109.6 558.4h.01M327.2 504.6h.01M207.1 525.3h.01M304.9 508.8h.01M354.0 496.4h.01M268.8 492.2h.01M179.0 533.6h.01M126.5 558.4h.01M354.7 442.7h.01M246.0 521.2h.01M276.0 488.1h.01M186.8 533.6h.01M285.3 525.3h.01M165.0 546.0h.01M279.8 479.8h.01M114.9 558.4h.01M339.4 541.8h.01M169.7 529.4h.01M125.6 550.1h.01M252.3 517.0h.01M422.0 459.2h.01M323.6 484.0h.01M100.8 558.4h.01M350.6 525.3h.01M309.1 442.7h.01M228.0 533.6h.01M116.3 546.0h.01M109.6 537.7h.01M390.6 492.2h.01M188.4 529.4h.01M192.6 508.8h.01M169.6 508.8h.01M154.9 546.0h.01M229.5 541.8h.01M230.8 517.0h.01M239.6 517.0h.01M350.1 471.6h.01M330.6 471.6h.01M119.8 541.8h.01M106.6 554.2h.01M101.0 558.4h.01M304.2 512.9h.01M197.6 550.1h.01M177.7 537.7h.01M193.5 533.6h.01M367.5 546.0h.01M435.1 488.1h.01M323.3 488.1h.01M167.7 508.8h.01M95.1 554.2h.01M151.7 554.2h.01M183.8 508.8h.01M460.8 442.7h.01M243.4 521.2h.01M345.6 512.9h.01M280.9 508.8h.01M148.0 529.4h.01M236.1 533.6h.01M311.5 500.5h.01M126.9 546.0h.01M137.5 508.8h.01M122.2 558.4h.01M234.1 492.2h.01M313.7 496.4h.01M149.0 508.8h.01M137.3 554.2h.01M297.2 512.9h.01M96.6 554.2h.01M517.2 463.3h.01M286.8 488.1h.01M255.4 541.8h.01M183.5 500.5h.01M162.8 558.4h.01M95.6 550.1h.01M282.5 525.3h.01M275.5 525.3h.01M125.2 554.2h.01M117.1 554.2h.01M153.1 529.4h.01M369.5 450.9h.01M234.8 525.3h.01M252.7 537.7h.01M142.9 525.3h.01M373.5 471.6h.01M225.1 537.7h.01M130.3 546.0h.01M324.0 517.0h.01M552.8 492.2h.01M141.1 550.1h.01M165.0 550.1h.01M529.7 496.4h.01M266.5 492.2h.01M332.0 475.7h.01M232.0 550.1h.01M336.3 446.8h.01M168.8 537.7h.01M582.6 434.4h.01M315.2 533.6h.01M191.7 496.4h.01M122.4 558.4h.01M111.8 546.0h.01M127.4 554.2h.01M564.5 434.4h.01M245.5 508.8h.01M129.0 550.1h.01M273.7 537.7h.01M321.9 492.2h.01M267.6 521.2h.01M97.4 558.4h.01M133.1 554.2h.01M124.2 558.4h.01M158.7 508.8h.01M145.7 554.2h.01M183.8 537.7h.01M447.9 500.5h.01M435.0 463.3h.01M153.3 550.1h.01M137.9 546.0h.01M146.5 550.1h.01M402.8 459.2h.01M334.1 496.4h.01M147.2 550.1h.01M324.8 500.5h.01M144.1 541.8h.01M271.8 500.5h.01M438.5 459.2h.01M103.1 558.4h.01M151.3 529.4h.01M221.6 517.0h.01M280.0 504.6h.01M122.1 546.0h.01M128.5 550.1h.01M153.8 546.0h.01M328.7 479.8h.01M222.7 496.4h.01M258.5 537.7h.01M303.2 475.7h.01M92.3 550.1h.01M270.1 504.6h.01M166.3 550.1h.01M343.8 508.8h.01M126.4 541.8h.01M166.1 537.7h.01M121.0 537.7h.01M146.6 500.5h.01M98.0 558.4h.01M300.7 529.4h.01M158.6 541.8h.01M167.2 525.3h.01M115.7 533.6h.01M156.7 533.6h.01M200.3 508.8h.01M216.8 550.1h.01M262.8 529.4h.01M488.8 488.1h.01M332.2 521.2h.01M329.1 541.8h.01M245.9 529.4h.01M332.6 517.0h.01M217.7 500.5h.01M493.1 517.0h.01M202.0 517.0h.01M170.6 529.4h.01M383.3 446.8h.01M142.2 558.4h.01M325.4 554.2h.01M114.3 550.1h.01M488.2 475.7h.01M165.4 541.8h.01M214.4 512.9h.01M218.5 537.7h.01M151.2 541.8h.01M146.3 517.0h.01M245.0 492.2h.01M122.5 517.0h.01M131.3 529.4h.01M143.3 546.0h.01M361.5 504.6h.01M172.5 537.7h.01M233.4 517.0h.01M97.2 550.1h.01M232.4 512.9h.01M301.4 500.5h.01M197.6 550.1h.01M278.0 504.6h.01M206.9 533.6h.01M127.0 521.2h.01M145.4 529.4h.01M115.0 558.4h.01M146.4 554.2h.01M119.8 546.0h.01M214.8 537.7h.01M210.5 546.0h.01M227.4 558.4h.01M173.5 500.5h.01M147.1 550.1h.01M138.6 546.0h.01M118.8 554.2h.01M279.2 496.4h.01M267.1 504.6h.01M363.2 525.3h.01M159.9 558.4h.01M177.5 521.2h.01M208.5 508.8h.01M359.5 426.1h.01M92.2 558.4h.01M95.7 554.2h.01M115.8 541.8h.01M111.6 508.8h.01M133.9 537.7h.01M161.9 541.8h.01M144.0 541.8h.01M187.6 529.4h.01M210.6 508.8h.01M274.6 512.9h.01M218.7 521.2h.01M117.7 546.0h.01M93.1 558.4h.01M202.5 525.3h.01M418.8 488.1h.01M359.8 446.8h.01M316.8 521.2h.01M328.6 554.2h.01M175.6 537.7h.01M125.1 541.8h.01M256.6 517.0h.01M101.1 558.4h.01M178.6 558.4h.01M179.0 512.9h.01M101.8 533.6h.01M92.2 558.4h.01M306.2 533.6h.01M192.7 537.7h.01M129.8 558.4h.01M147.3 529.4h.01M284.7 512.9h.01M98.3 558.4h.01M154.2 537.7h.01M130.8 558.4h.01M179.5 525.3h.01M114.0 550.1h.01M113.1 554.2h.01M191.0 521.2h.01M172.4 508.8h.01M103.3 546.0h.01M280.8 467.5h.01M170.7 484.0h.01M195.9 508.8h.01M189.3 537.7h.01M293.1 541.8h.01M434.4 529.4h.01M170.2 541.8h.01M158.0 525.3h.01M387.4 529.4h.01M194.3 550.1h.01M248.4 512.9h.01M228.4 492.2h.01M300.5 521.2h.01M151.2 541.8h.01M118.5 554.2h.01M113.5 558.4h.01M278.1 479.8h.01M193.9 517.0h.01M247.5 525.3h.01M191.9 512.9h.01M337.4 484.0h.01M234.2 496.4h.01M256.1 525.3h.01M151.1 546.0h.01M107.2 537.7h.01M167.6 537.7h.01M335.1 533.6h.01M258.2 475.7h.01M429.7 484.0h.01M208.3 517.0h.01M174.4 504.6h.01M349.5 496.4h.01M93.0 554.2h.01M188.5 504.6h.01M150.1 533.6h.01M224.0 525.3h.01M256.5 550.1h.01M309.7 508.8h.01M264.1 537.7h.01M379.1 479.8h.01M195.2 533.6h.01M282.7 541.8h.01M355.5 529.4h.01M492.7 521.2h.01M188.0 550.1h.01M325.4 484.0h.01M103.6 554.2h.01M349.7 508.8h.01M295.3 554.2h.01M130.6 554.2h.01M299.8 525.3h.01M306.8 517.0h.01M149.8 546.0h.01M109.9 554.2h.01M178.8 537.7h.01M178.9 508.8h.01M119.5 558.4h.01M154.2 558.4h.01M131.7 554.2h.01M168.0 541.8h.01M185.7 558.4h.01M120.4 558.4h.01M124.6 546.0h.01M92.2 554.2h.01M297.1 500.5h.01M191.1 521.2h.01M351.3 504.6h.01M339.2 471.6h.01M144.9 550.1h.01M92.2 554.2h.01M114.8 554.2h.01M399.4 500.5h.01M96.9 550.1h.01M415.2 475.7h.01M181.9 500.5h.01M110.4 541.8h.01M153.7 521.2h.01M240.2 541.8h.01M359.8 463.3h.01M116.9 554.2h.01M171.9 500.5h.01M251.7 508.8h.01M317.5 521.2h.01M113.3 537.7h.01M132.0 546.0h.01M136.2 533.6h.01M112.2 554.2h.01M328.4 504.6h.01M194.1 537.7h.01M97.0 554.2h.01M147.7 512.9h.01M371.3 521.2h.01M143.5 550.1h.01M152.1 533.6h.01M255.8 492.2h.01M366.7 492.2h.01M343.6 459.2h.01M373.2 450.9h.01M483.8 471.6h.01M398.6 463.3h.01M143.1 537.7h.01M168.7 550.1h.01M114.8 558.4h.01M295.9 533.6h.01M139.8 546.0h.01M322.9 517.0h.01M129.7 558.4h.01M110.6 550.1h.01M381.9 475.7h.01M198.5 533.6h.01M139.1 529.4h.01M179.2 546.0h.01M103.4 550.1h.01M324.9 512.9h.01M185.6 521.2h.01M100.4 558.4h.01M145.6 517.0h.01M228.0 541.8h.01M180.9 546.0h.01M157.9 550.1h.01M161.0 537.7h.01M312.8 475.7h.01M147.5 554.2h.01M270.5 529.4h.01M264.9 546.0h.01M233.2 525.3h.01M102.4 558.4h.01M265.2 521.2h.01M165.7 546.0h.01M102.8 550.1h.01M96.4 558.4h.01M393.3 426.1h.01M287.4 521.2h.01M159.0 558.4h.01M319.7 512.9h.01M109.8 558.4h.01M147.0 525.3h.01M94.3 554.2h.01M205.1 517.0h.01M156.3 529.4h.01M198.2 517.0h.01M191.6 546.0h.01M320.1 488.1h.01M168.2 541.8h.01M214.2 508.8h.01M104.8 558.4h.01M506.8 471.6h.01M203.4 529.4h.01M163.0 554.2h.01M163.2 550.1h.01M152.2 554.2h.01M117.5 558.4h.01M279.4 504.6h.01M325.6 546.0h.01M341.1 537.7h.01M104.2 558.4h.01M243.8 508.8h.01M105.6 554.2h.01M300.4 504.6h.01M348.8 500.5h.01M220.5 550.1h.01M290.8 492.2h.01M389.2 504.6h.01M187.4 525.3h.01M201.8 517.0h.01M227.7 529.4h.01M146.1 504.6h.01M126.8 558.4h.01M299.9 504.6h.01M164.9 558.4h.01M264.1 504.6h.01M125.0 504.6h.01M193.8 537.7h.01M246.2 517.0h.01M349.0 484.0h.01M126.7 546.0h.01M274.1 517.0h.01M113.7 554.2h.01M415.1 455.1h.01M213.8 500.5h.01M106.3 554.2h.01M92.7 550.1h.01M147.8 521.2h.01M273.2 517.0h.01M154.6 529.4h.01M352.6 529.4h.01M161.5 550.1h.01M397.8 488.1h.01M279.6 541.8h.01M296.0 512.9h.01M538.5 430.3h.01M180.9 533.6h.01M361.1 475.7h.01M399.9 500.5h.01M192.8 537.7h.01M168.5 537.7h.01M300.9 475.7h.01M455.1 492.2h.01M432.5 496.4h.01M152.9 533.6h.01M217.9 512.9h.01M364.7 521.2h.01M335.2 492.2h.01M404.0 446.8h.01M153.4 558.4h.01M209.8 496.4h.01M220.5 521.2h.01M509.5 504.6h.01M104.0 554.2h.01M144.5 529.4h.01M380.6 430.3h.01M306.6 525.3h.01M94.1 554.2h.01M98.7 541.8h.01M420.5 438.5h.01M95.0 550.1h.01M184.7 537.7h.01M309.9 512.9h.01M179.4 537.7h.01M101.5 541.8h.01M118.6 558.4h.01M388.1 450.9h.01M96.0 550.1h.01M266.1 525.3h.01M115.1 550.1h.01M237.4 525.3h.01M241.1 529.4h.01M275.3 508.8h.01M131.0 558.4h.01M260.8 521.2h.01M288.6 496.4h.01M195.0 492.2h.01M488.7 504.6h.01M214.3 541.8h.01M326.4 484.0h.01M577.5 459.2h.01M412.9 467.5h.01M247.3 517.0h.01M314.0 463.3h.01M187.1 517.0h.01M247.1 475.7h.01M255.7 496.4h.01M315.5 475.7h.01M140.9 550.1h.01M248.9 525.3h.01M194.1 521.2h.01M152.9 529.4h.01M180.7 546.0h.01M184.1 525.3h.01M189.4 546.0h.01M236.8 512.9h.01M236.5 521.2h.01M363.1 525.3h.01M110.3 554.2h.01M496.1 508.8h.01M390.8 496.4h.01M243.0 517.0h.01M106.9 525.3h.01M375.7 492.2h.01M304.7 479.8h.01M200.5 521.2h.01M348.1 479.8h.01M334.8 504.6h.01M178.5 541.8h.01M221.1 529.4h.01M230.4 554.2h.01M197.8 529.4h.01M313.4 488.1h.01M204.5 554.2h.01M456.2 504.6h.01M331.5 508.8h.01M463.8 438.5h.01M259.6 504.6h.01M107.7 558.4h.01M126.5 550.1h.01M473.5 479.8h.01M99.3 550.1h.01M161.4 558.4h.01M427.6 517.0h.01M112.8 554.2h.01M183.0 479.8h.01M254.7 525.3h.01M300.4 467.5h.01M176.4 508.8h.01M120.8 541.8h.01M160.0 533.6h.01M299.1 512.9h.01M140.7 558.4h.01M306.4 517.0h.01M105.5 537.7h.01M267.3 508.8h.01M346.4 479.8h.01M92.2 558.4h.01M377.7 450.9h.01M213.5 546.0h.01M361.5 500.5h.01M215.7 558.4h.01M570.4 459.2h.01M204.4 546.0h.01M95.0 558.4h.01M281.9 496.4h.01M367.8 517.0h.01M319.1 496.4h.01M133.8 517.0h.01M267.0 508.8h.01M113.5 525.3h.01M135.4 550.1h.01M353.2 484.0h.01M339.4 525.3h.01M183.0 558.4h.01M209.3 550.1h.01M342.7 504.6h.01M108.8 558.4h.01M324.2 463.3h.01M319.1 471.6h.01M279.3 484.0h.01M162.2 525.3h.01M428.4 467.5h.01M280.7 517.0h.01M96.0 558.4h.01M186.7 558.4h.01M296.1 517.0h.01M191.7 529.4h.01M260.0 521.2h.01M345.7 492.2h.01M155.2 533.6h.01M240.0 541.8h.01M344.4 463.3h.01M96.9 546.0h.01M397.0 546.0h.01M94.4 558.4h.01M116.5 546.0h.01M112.1 558.4h.01M366.2 496.4h.01M344.2 500.5h.01M406.9 492.2h.01M92.7 554.2h.01M141.9 558.4h.01M317.4 517.0h.01M365.6 508.8h.01M104.3 558.4h.01M341.4 471.6h.01M106.9 554.2h.01M214.8 517.0h.01M231.2 533.6h.01M172.1 546.0h.01M369.4 500.5h.01M123.5 537.7h.01M148.9 517.0h.01M136.0 529.4h.01M135.9 558.4h.01M211.0 533.6h.01M144.5 550.1h.01M171.6 533.6h.01M406.8 434.4h.01M92.2 558.4h.01M129.9 541.8h.01M178.8 537.7h.01M209.5 512.9h.01M133.4 558.4h.01M340.3 517.0h.01M225.6 533.6h.01M92.2 541.8h.01M248.5 521.2h.01M113.1 546.0h.01M394.6 529.4h.01M121.5 550.1h.01M128.1 541.8h.01M150.9 541.8h.01M404.9 459.2h.01M155.7 550.1h.01M241.0 484.0h.01M164.3 558.4h.01M322.3 512.9h.01M192.9 521.2h.01M298.3 492.2h.01M181.3 537.7h.01M134.8 546.0h.01M159.6 558.4h.01M116.1 537.7h.01M175.8 541.8h.01M92.2 550.1h.01M167.7 521.2h.01M190.5 537.7h.01M118.9 537.7h.01M127.8 558.4h.01M172.9 533.6h.01M137.5 541.8h.01M358.4 496.4h.01M219.3 492.2h.01M234.6 533.6h.01M316.1 492.2h.01M239.2 504.6h.01M284.6 512.9h.01M561.3 541.8h.01M335.0 508.8h.01M116.6 550.1h.01M291.9 541.8h.01M192.2 508.8h.01M282.2 504.6h.01M121.8 533.6h.01M342.6 517.0h.01M180.2 533.6h.01M190.0 533.6h.01M526.6 500.5h.01M306.8 537.7h.01M228.1 500.5h.01M141.0 558.4h.01M279.7 517.0h.01M224.3 500.5h.01M150.6 525.3h.01M196.4 550.1h.01M257.3 537.7h.01M155.2 512.9h.01M335.3 463.3h.01M166.4 504.6h.01M119.6 554.2h.01M92.2 558.4h.01M161.0 529.4h.01M342.9 500.5h.01M350.4 484.0h.01M119.7 558.4h.01M184.9 554.2h.01M376.0 467.5h.01M154.7 537.7h.01M117.6 558.4h.01M383.2 550.1h.01M175.0 546.0h.01M120.0 550.1h.01M215.9 533.6h.01M237.7 533.6h.01M377.3 488.1h.01M271.3 521.2h.01M166.8 537.7h.01M229.2 517.0h.01M257.8 508.8h.01M120.1 541.8h.01M131.8 558.4h.01M230.8 546.0h.01M108.9 558.4h.01M292.5 500.5h.01M556.1 459.2h.01M261.9 508.8h.01M364.3 484.0h.01M221.3 550.1h.01M240.9 558.4h.01M122.0 541.8h.01M273.5 463.3h.01M265.3 504.6h.01M238.7 529.4h.01M254.3 558.4h.01M347.5 508.8h.01M285.4 533.6h.01M409.2 442.7h.01M221.6 525.3h.01M96.6 558.4h.01M204.6 533.6h.01M126.4 554.2h.01M183.7 541.8h.01M132.1 558.4h.01M92.6 558.4h.01M323.7 512.9h.01M236.2 525.3h.01M200.9 529.4h.01M376.7 504.6h.01M105.8 546.0h.01M218.3 541.8h.01M184.6 537.7h.01M185.8 521.2h.01M283.4 484.0h.01M120.1 550.1h.01M107.8 558.4h.01M145.7 525.3h.01M265.5 541.8h.01M289.9 525.3h.01M180.4 517.0h.01M119.5 554.2h.01M137.9 541.8h.01M355.8 504.6h.01M168.6 512.9h.01M259.3 496.4h.01M268.8 471.6h.01M169.9 529.4h.01M404.2 484.0h.01M129.1 554.2h.01M174.7 546.0h.01M278.6 550.1h.01M105.0 558.4h.01M452.8 479.8h.01M315.6 500.5h.01M261.3 521.2h.01M346.2 479.8h.01M200.4 525.3h.01M180.6 512.9h.01M155.7 554.2h.01M93.4 558.4h.01M133.2 558.4h.01M117.7 550.1h.01M344.6 479.8h.01M244.6 554.2h.01M554.1 442.7h.01M94.6 558.4h.01M190.6 517.0h.01M126.6 558.4h.01M440.7 475.7h.01M327.1 479.8h.01M173.0 541.8h.01M250.2 541.8h.01M328.0 508.8h.01M200.0 533.6h.01M111.6 550.1h.01M143.1 541.8h.01M204.8 558.4h.01M552.3 525.3h.01M303.0 479.8h.01M300.3 496.4h.01M113.4 554.2h.01M217.1 529.4h.01M146.6 558.4h.01M172.0 541.8h.01M247.2 558.4h.01M213.0 529.4h.01M369.6 475.7h.01M98.4 558.4h.01M201.7 504.6h.01M92.2 554.2h.01M278.5 500.5h.01M124.6 554.2h.01M100.7 554.2h.01M94.2 554.2h.01M139.2 546.0h.01M133.5 533.6h.01M292.1 450.9h.01M367.2 484.0h.01M253.3 558.4h.01M423.4 484.0h.01M392.3 484.0h.01M298.3 533.6h.01M175.9 529.4h.01M152.5 550.1h.01M386.4 475.7h.01M245.4 525.3h.01M199.8 541.8h.01M547.9 488.1h.01M137.0 537.7h.01M143.2 537.7h.01M515.9 450.9h.01M421.0 467.5h.01M482.8 479.8h.01M233.0 529.4h.01M210.8 521.2h.01M222.9 512.9h.01M271.5 484.0h.01M433.3 492.2h.01M104.1 541.8h.01M185.1 541.8h.01M138.5 550.1h.01M97.0 554.2h.01M148.1 550.1h.01M130.7 550.1h.01M362.3 434.4h.01M119.0 546.0h.01M166.3 512.9h.01M241.3 500.5h.01M201.0 529.4h.01M174.6 541.8h.01M215.2 484.0h.01M132.4 537.7h.01M496.9 488.1h.01M425.3 504.6h.01M308.8 496.4h.01M504.4 546.0h.01M295.3 504.6h.01M184.5 517.0h.01M112.4 537.7h.01M545.8 500.5h.01M124.6 550.1h.01M202.4 496.4h.01M344.3 475.7h.01M187.7 550.1h.01M473.9 422.0h.01M177.2 537.7h.01M113.8 546.0h.01M233.3 533.6h.01M477.9 426.1h.01M320.9 442.7h.01M443.7 508.8h.01M290.6 467.5h.01M117.7 558.4h.01M104.9 558.4h.01M384.3 496.4h.01M204.4 546.0h.01M331.9 504.6h.01M426.6 479.8h.01M384.5 508.8h.01M180.8 533.6h.01M117.5 558.4h.01M241.4 521.2h.01M193.1 517.0h.01M112.9 541.8h.01M362.3 512.9h.01M288.4 496.4h.01M181.0 554.2h.01M379.3 508.8h.01M316.9 471.6h.01M183.5 546.0h.01M171.1 537.7h.01M113.9 554.2h.01M95.9 558.4h.01M130.8 541.8h.01M145.5 537.7h.01M123.6 550.1h.01M296.6 529.4h.01M175.7 529.4h.01M197.6 550.1h.01M186.8 537.7h.01M144.6 529.4h.01M243.4 479.8h.01M384.7 479.8h.01M178.7 529.4h.01M97.0 558.4h.01M255.9 550.1h.01M116.6 558.4h.01M352.1 500.5h.01M152.6 546.0h.01M310.3 492.2h.01M375.6 484.0h.01M308.8 508.8h.01M303.9 533.6h.01M451.1 471.6h.01M252.2 512.9h.01M178.0 550.1h.01M449.3 484.0h.01M200.3 529.4h.01M170.1 525.3h.01M328.3 533.6h.01M257.2 554.2h.01M205.4 525.3h.01M158.2 554.2h.01M238.8 550.1h.01M542.3 438.5h.01M476.7 434.4h.01M141.2 546.0h.01M116.7 550.1h.01M321.0 500.5h.01M385.6 546.0h.01M190.2 496.4h.01M291.4 471.6h.01M273.1 512.9h.01M152.0 546.0h.01M218.1 546.0h.01M131.5 508.8h.01M187.0 529.4h.01M329.2 488.1h.01M273.7 533.6h.01M125.9 537.7h.01M315.3 463.3h.01M185.4 550.1h.01M162.6 533.6h.01M308.4 537.7h.01M316.0 521.2h.01M136.3 525.3h.01M112.3 554.2h.01M119.0 546.0h.01M333.5 475.7h.01M372.8 479.8h.01M221.0 541.8h.01M325.2 508.8h.01M247.2 512.9h.01M216.8 521.2h.01M125.1 533.6h.01M276.5 504.6h.01M200.7 537.7h.01M223.3 492.2h.01M304.9 537.7h.01M237.0 521.2h.01M242.2 471.6h.01M135.0 546.0h.01M499.6 455.1h.01M349.2 525.3h.01M245.2 467.5h.01M292.9 488.1h.01M125.0 558.4h.01M143.7 550.1h.01M147.6 550.1h.01M142.0 554.2h.01M157.5 533.6h.01M491.3 508.8h.01M198.0 554.2h.01M216.1 529.4h.01M147.0 554.2h.01M282.4 475.7h.01M176.1 546.0h.01M170.9 546.0h.01M319.8 492.2h.01M402.2 450.9h.01M258.7 517.0h.01M347.0 488.1h.01M228.5 488.1h.01M492.1 459.2h.01M270.8 504.6h.01M291.6 488.1h.01M310.8 521.2h.01M98.8 554.2h.01M193.1 529.4h.01M213.4 517.0h.01M375.0 517.0h.01M95.5 550.1h.01M308.9 512.9h.01M92.2 554.2h.01M127.9 508.8h.01M263.9 541.8h.01M273.0 504.6h.01M222.0 517.0h.01M292.7 488.1h.01M429.1 492.2h.01M317.1 504.6h.01M277.1 533.6h.01M114.7 550.1h.01M150.9 546.0h.01M123.6 558.4h.01M587.2 500.5h.01M168.9 521.2h.01M211.3 521.2h.01M300.7 463.3h.01M222.8 546.0h.01M500.8 463.3h.01M247.6 484.0h.01M148.7 541.8h.01M223.9 546.0h.01M288.4 525.3h.01M168.0 488.1h.01M112.1 546.0h.01M166.5 525.3h.01M449.0 504.6h.01M120.8 537.7h.01M222.5 525.3h.01M204.7 554.2h.01M189.3 537.7h.01M256.8 492.2h.01M234.8 521.2h.01M102.1 558.4h.01M232.3 517.0h.01M104.9 541.8h.01M199.9 512.9h.01M127.4 533.6h.01M135.1 537.7h.01M215.9 479.8h.01M324.1 512.9h.01M334.7 504.6h.01M296.8 492.2h.01M240.4 558.4h.01M204.3 533.6h.01M176.8 558.4h.01M117.4 550.1h.01M129.4 550.1h.01M152.3 546.0h.01M100.8 554.2h.01M218.1 521.2h.01M502.1 492.2h.01M107.9 558.4h.01M202.9 533.6h.01M518.8 446.8h.01M468.3 521.2h.01M190.8 521.2h.01M115.0 558.4h.01M186.9 517.0h.01M149.2 541.8h.01M322.8 533.6h.01M320.0 504.6h.01M370.8 496.4h.01M316.8 471.6h.01M188.7 550.1h.01M275.4 533.6h.01M97.7 550.1h.01M195.6 529.4h.01M338.5 496.4h.01M330.9 533.6h.01M128.7 558.4h.01M134.0 554.2h.01M135.9 533.6h.01M137.6 533.6h.01M143.0 558.4h.01M134.3 541.8h.01M225.2 533.6h.01M214.5 517.0h.01M145.2 558.4h.01M340.0 438.5h.01M337.6 488.1h.01M108.7 541.8h.01M237.4 525.3h.01M512.6 467.5h.01M507.5 521.2h.01M126.2 504.6h.01M416.0 496.4h.01M301.5 533.6h.01M135.3 554.2h.01M352.0 484.0h.01M258.3 521.2h.01M92.2 558.4h.01M205.9 529.4h.01M418.1 504.6h.01M103.2 537.7h.01M229.2 492.2h.01M524.3 455.1h.01M245.1 521.2h.01M501.4 521.2h.01M112.0 554.2h.01M119.1 537.7h.01M213.4 521.2h.01M96.7 558.4h.01M280.3 533.6h.01M123.8 546.0h.01M189.7 558.4h.01M321.3 537.7h.01M266.9 512.9h.01M286.7 517.0h.01M150.4 550.1h.01M158.0 550.1h.01M296.3 488.1h.01M155.9 558.4h.01M170.0 508.8h.01M180.3 546.0h.01M152.3 537.7h.01M330.8 525.3h.01M209.3 537.7h.01M107.8 558.4h.01M260.5 517.0h.01M321.7 496.4h.01M392.0 467.5h.01M225.4 504.6h.01M365.0 463.3h.01M289.5 500.5h.01M291.1 533.6h.01M320.3 533.6h.01M153.5 554.2h.01M176.5 533.6h.01M111.4 533.6h.01M103.4 558.4h.01M133.3 546.0h.01M92.2 550.1h.01M396.3 512.9h.01M387.0 488.1h.01M180.2 504.6h.01M109.3 558.4h.01M139.8 525.3h.01M203.1 529.4h.01M152.4 537.7h.01M136.4 541.8h.01M282.1 512.9h.01M254.4 512.9h.01M343.9 504.6h.01M358.8 504.6h.01M229.8 525.3h.01M131.2 546.0h.01M167.2 546.0h.01M583.6 484.0h.01M453.6 521.2h.01M122.9 541.8h.01M276.4 475.7h.01M101.9 537.7h.01M428.8 438.5h.01M116.4 546.0h.01M219.4 533.6h.01M231.0 492.2h.01M184.2 537.7h.01M124.9 541.8h.01M186.4 546.0h.01M293.5 558.4h.01M141.5 541.8h.01M103.8 558.4h.01M398.0 463.3h.01M170.4 529.4h.01M442.1 475.7h.01M148.9 558.4h.01M95.1 558.4h.01M205.9 550.1h.01M472.3 546.0h.01M123.3 558.4h.01M107.5 550.1h.01M104.7 533.6h.01M319.8 525.3h.01M351.0 496.4h.01M212.0 541.8h.01M118.3 554.2h.01M429.6 434.4h.01M197.5 550.1h.01M270.7 504.6h.01M259.1 525.3h.01M318.3 512.9h.01M329.4 492.2h.01M300.9 517.0h.01M209.3 504.6h.01M132.9 537.7h.01M303.8 521.2h.01M376.6 508.8h.01M142.1 504.6h.01M166.8 550.1h.01M153.9 546.0h.01M245.3 554.2h.01M531.0 488.1h.01M354.9 496.4h.01M271.2 479.8h.01M284.9 500.5h.01M353.0 500.5h.01M232.1 550.1h.01M193.0 492.2h.01M187.2 529.4h.01M226.7 512.9h.01M273.8 500.5h.01M92.2 554.2h.01M251.8 537.7h.01M572.4 471.6h.01M149.1 537.7h.01M329.7 500.5h.01M329.5 463.3h.01M107.3 533.6h.01M302.2 512.9h.01M325.0 500.5h.01M129.5 529.4h.01M124.2 546.0h.01M262.2 488.1h.01M328.2 500.5h.01M268.6 533.6h.01M512.3 512.9h.01M158.1 521.2h.01M274.8 517.0h.01M217.2 529.4h.01M98.5 554.2h.01M368.9 508.8h.01M141.1 529.4h.01M245.6 459.2h.01M348.5 541.8h.01M348.4 508.8h.01M219.5 525.3h.01M226.6 500.5h.01M269.3 533.6h.01M365.2 484.0h.01M367.1 459.2h.01M331.0 471.6h.01M108.9 558.4h.01M165.5 521.2h.01M133.5 550.1h.01M171.8 558.4h.01M135.8 537.7h.01M195.3 554.2h.01M416.8 430.3h.01M357.5 512.9h.01M261.0 467.5h.01M141.3 550.1h.01M183.1 550.1h.01M237.9 521.2h.01M343.1 537.7h.01M270.8 508.8h.01M138.3 541.8h.01M270.6 504.6h.01M107.1 558.4h.01M133.2 533.6h.01M107.4 554.2h.01M185.2 546.0h.01M330.3 463.3h.01M413.4 500.5h.01M95.2 558.4h.01M121.5 550.1h.01M291.3 496.4h.01M291.8 517.0h.01M226.7 504.6h.01M149.5 550.1h.01M159.8 554.2h.01M118.0 541.8h.01M118.4 554.2h.01M246.8 521.2h.01M438.3 463.3h.01M111.1 546.0h.01M113.0 554.2h.01M348.1 492.2h.01M151.4 517.0h.01M166.9 546.0h.01M211.1 479.8h.01M345.1 479.8h.01M114.6 558.4h.01M167.8 529.4h.01M152.5 533.6h.01M350.7 500.5h.01M126.1 537.7h.01M239.1 508.8h.01M253.7 546.0h.01M541.3 455.1h.01M227.2 475.7h.01M142.2 554.2h.01M269.5 517.0h.01M284.9 496.4h.01M318.8 492.2h.01M187.3 537.7h.01M272.4 484.0h.01M98.6 554.2h.01M378.7 496.4h.01M257.6 541.8h.01M260.8 521.2h.01M375.2 550.1h.01M353.3 504.6h.01M93.8 554.2h.01M110.2 554.2h.01M566.1 450.9h.01M456.8 463.3h.01M246.1 554.2h.01M93.1 558.4h.01M252.1 558.4h.01M559.3 463.3h.01M242.8 529.4h.01M346.1 541.8h.01M166.9 517.0h.01M183.3 554.2h.01M184.4 479.8h.01M196.2 521.2h.01M160.5 541.8h.01M92.2 558.4h.01M206.6 525.3h.01M102.3 554.2h.01M329.8 471.6h.01M150.4 537.7h.01M184.3 554.2h.01M246.6 517.0h.01M332.6 492.2h.01M145.6 517.0h.01M345.3 484.0h.01M164.1 533.6h.01M132.6 550.1h.01M240.1 521.2h.01M236.4 500.5h.01M191.3 533.6h.01M278.9 558.4h.01M368.1 504.6h.01M123.7 541.8h.01M218.6 500.5h.01M139.9 554.2h.01M459.2 504.6h.01M281.7 537.7h.01M138.8 529.4h.01M457.6 517.0h.01M186.0 529.4h.01M147.1 541.8h.01M111.8 558.4h.01M147.7 529.4h.01M194.6 537.7h.01M185.2 521.2h.01M223.6 512.9h.01M266.7 525.3h.01M134.8 517.0h.01M279.1 508.8h.01M232.5 558.4h.01M324.8 517.0h.01M125.5 554.2h.01M112.7 546.0h.01M116.5 554.2h.01M250.7 521.2h.01M127.8 533.6h.01M494.6 488.1h.01M346.5 488.1h.01M103.5 558.4h.01M252.4 529.4h.01M331.9 484.0h.01M151.8 550.1h.01M257.9 463.3h.01M264.8 500.5h.01M217.8 508.8h.01M303.2 463.3h.01M94.6 554.2h.01M130.9 558.4h.01M195.6 541.8h.01M126.4 554.2h.01M228.7 529.4h.01M221.4 496.4h.01M271.7 492.2h.01M121.5 554.2h.01M429.9 475.7h.01M283.8 504.6h.01M310.1 500.5h.01M233.3 521.2h.01M134.7 554.2h.01M443.3 446.8h.01M251.0 533.6h.01M281.6 525.3h.01M497.4 496.4h.01M204.2 546.0h.01M388.6 463.3h.01M260.3 500.5h.01M209.5 554.2h.01M373.6 459.2h.01M286.6 475.7h.01M170.5 554.2h.01M205.7 504.6h.01M500.5 492.2h.01M261.7 529.4h.01M351.8 488.1h.01M272.6 558.4h.01M161.2 558.4h.01M523.1 438.5h.01M114.9 550.1h.01M437.6 504.6h.01M541.6 521.2h.01M112.5 533.6h.01M112.2 558.4h.01M212.6 537.7h.01M451.8 475.7h.01M104.1 558.4h.01M411.7 492.2h.01M404.4 533.6h.01M138.2 529.4h.01M121.8 558.4h.01M262.9 504.6h.01M98.4 546.0h.01M303.4 537.7h.01M225.7 475.7h.01M141.1 554.2h.01M196.0 554.2h.01M182.5 533.6h.01M92.2 554.2h.01M137.4 550.1h.01M215.1 521.2h.01M160.1 541.8h.01M154.1 533.6h.01M151.4 546.0h.01M319.5 512.9h.01M106.7 550.1h.01M95.3 546.0h.01M250.1 467.5h.01M162.3 558.4h.01M93.9 558.4h.01M127.9 546.0h.01M103.9 541.8h.01M319.6 488.1h.01M189.8 529.4h.01M106.0 558.4h.01M213.8 525.3h.01M134.1 546.0h.01M179.1 529.4h.01M136.7 504.6h.01M294.9 541.8h.01M116.7 550.1h.01M363.1 450.9h.01M201.6 541.8h.01M211.5 541.8h.01M148.1 546.0h.01M163.7 550.1h.01M539.0 517.0h.01M365.8 467.5h.01M153.1 512.9h.01M181.8 533.6h.01M167.2 529.4h.01M589.9 467.5h.01M359.3 496.4h.01M356.5 463.3h.01M308.3 479.8h.01M102.2 554.2h.01M209.4 500.5h.01M120.5 554.2h.01M299.3 508.8h.01M191.5 512.9h.01M210.6 533.6h.01M286.8 537.7h.01M92.2 558.4h.01M242.5 500.5h.01M302.5 463.3h.01M353.0 496.4h.01M326.9 496.4h.01M268.9 533.6h.01M155.0 521.2h.01M272.0 517.0h.01M277.9 529.4h.01M162.3 508.8h.01M240.5 529.4h.01M242.0 471.6h.01M460.2 479.8h.01M417.4 521.2h.01M353.6 521.2h.01M190.7 546.0h.01M105.4 558.4h.01M156.4 558.4h.01M198.1 500.5h.01M187.9 546.0h.01M239.5 525.3h.01M231.4 517.0h.01M161.8 541.8h.01M349.6 517.0h.01M170.3 541.8h.01M93.5 558.4h.01M199.7 537.7h.01M312.0 517.0h.01M432.1 484.0h.01M111.6 541.8h.01M292.4 521.2h.01M263.0 558.4h.01M356.6 475.7h.01M178.4 529.4h.01M273.2 504.6h.01M154.5 537.7h.01M109.5 546.0h.01M125.3 546.0h.01M262.9 508.8h.01M172.1 525.3h.01M122.5 558.4h.01M293.9 463.3h.01M323.9 512.9h.01M260.6 500.5h.01M219.8 541.8h.01M241.6 546.0h.01M217.4 504.6h.01M307.3 504.6h.01M276.7 496.4h.01M142.2 554.2h.01M108.4 546.0h.01M245.4 533.6h.01M450.1 438.5h.01M166.6 541.8h.01M211.9 537.7h.01M414.4 517.0h.01M136.8 550.1h.01M588.5 434.4h.01M549.1 508.8h.01M219.3 537.7h.01M322.7 517.0h.01M158.5 508.8h.01M258.4 500.5h.01M317.8 500.5h.01M161.1 546.0h.01M202.1 521.2h.01M193.2 533.6h.01M99.0 546.0h.01M209.9 550.1h.01M262.1 467.5h.01M94.6 558.4h.01M198.3 558.4h.01M176.3 512.9h.01M237.0 508.8h.01M182.0 537.7h.01M107.5 541.8h.01M127.3 529.4h.01M130.4 558.4h.01M234.5 492.2h.01M134.6 529.4h.01M363.9 492.2h.01M268.6 546.0h.01M395.0 463.3h.01M333.5 467.5h.01M108.5 550.1h.01M113.2 558.4h.01M162.5 541.8h.01M373.1 492.2h.01M194.5 537.7h.01M140.0 541.8h.01M96.1 550.1h.01M324.6 488.1h.01M113.2 517.0h.01M171.4 554.2h.01M106.2 558.4h.01M309.8 475.7h.01M193.2 492.2h.01M169.9 492.2h.01M273.9 521.2h.01M173.0 541.8h.01M128.7 533.6h.01M173.1 512.9h.01M103.5 558.4h.01M513.2 450.9h.01M93.4 558.4h.01M214.4 517.0h.01M232.7 521.2h.01M347.7 442.7h.01M199.1 558.4h.01M330.4 492.2h.01M354.9 496.4h.01M183.6 533.6h.01M137.4 554.2h.01M261.8 525.3h.01M169.0 533.6h.01M296.9 533.6h.01M118.1 521.2h.01M264.0 463.3h.01M97.9 558.4h.01M145.8 529.4h.01M310.9 500.5h.01M342.0 512.9h.01M153.8 541.8h.01M399.2 492.2h.01M130.1 541.8h.01M154.3 541.8h.01M191.0 537.7h.01M510.9 450.9h.01M157.7 525.3h.01M132.8 537.7h.01M155.3 541.8h.01M117.0 558.4h.01M337.8 521.2h.01M176.9 508.8h.01M540.4 475.7h.01M304.4 537.7h.01M139.5 558.4h.01M337.3 488.1h.01M281.4 500.5h.01M105.2 546.0h.01M149.3 521.2h.01M110.2 558.4h.01M231.9 541.8h.01M205.1 512.9h.01M167.9 537.7h.01M164.3 533.6h.01M212.2 521.2h.01M182.1 525.3h.01M305.1 475.7h.01M110.9 541.8h.01M182.6 517.0h.01M379.9 504.6h.01M241.3 558.4h.01M571.5 508.8h.01M118.0 541.8h.01M259.7 533.6h.01M249.4 525.3h.01M257.7 541.8h.01M423.1 459.2h.01M441.0 529.4h.01M99.2 533.6h.01M202.7 479.8h.01M167.1 529.4h.01M319.4 525.3h.01M279.0 529.4h.01M132.8 525.3h.01M251.5 492.2h.01M192.9 554.2h.01M221.6 546.0h.01M177.6 537.7h.01M202.6 475.7h.01M277.2 521.2h.01M176.3 550.1h.01M304.0 558.4h.01M96.5 546.0h.01M280.4 475.7h.01M154.1 537.7h.01M411.6 430.3h.01M98.0 546.0h.01M146.5 546.0h.01M92.2 554.2h.01M378.1 488.1h.01M159.2 521.2h.01M128.4 541.8h.01M196.9 533.6h.01M181.7 500.5h.01M353.9 496.4h.01M131.0 558.4h.01M136.6 504.6h.01M179.1 517.0h.01M95.2 558.4h.01M352.3 463.3h.01M241.5 541.8h.01M364.2 484.0h.01M260.4 484.0h.01M278.2 508.8h.01M241.9 467.5h.01M105.8 529.4h.01M153.4 546.0h.01M144.4 541.8h.01M221.0 467.5h.01M209.0 541.8h.01M118.2 558.4h.01M203.8 541.8h.01M237.3 529.4h.01M222.1 521.2h.01M111.0 550.1h.01M272.1 500.5h.01M254.9 500.5h.01M331.1 508.8h.01M190.6 558.4h.01M122.6 541.8h.01M361.8 508.8h.01M115.2 546.0h.01M208.2 529.4h.01M265.1 512.9h.01M166.4 492.2h.01M207.7 508.8h.01M116.0 546.0h.01M348.9 541.8h.01M129.7 550.1h.01M293.9 492.2h.01M123.2 554.2h.01M101.6 541.8h.01M200.7 537.7h.01M220.8 512.9h.01M347.2 467.5h.01M546.7 426.1h.01M138.9 554.2h.01M203.9 558.4h.01M102.2 546.0h.01M131.4 558.4h.01M372.9 479.8h.01M262.7 521.2h.01M145.0 550.1h.01M296.9 500.5h.01M261.0 558.4h.01M245.0 525.3h.01M520.1 463.3h.01M530.0 463.3h.01M164.7 546.0h.01M302.9 504.6h.01M291.1 529.4h.01M330.6 484.0h.01M357.6 517.0h.01M484.7 533.6h.01M110.6 541.8h.01M102.0 554.2h.01M218.7 558.4h.01M119.0 554.2h.01M307.4 537.7h.01M432.2 525.3h.01M147.8 558.4h.01M271.6 512.9h.01M105.7 558.4h.01M249.5 554.2h.01M264.3 504.6h.01M306.4 508.8h.01M297.4 508.8h.01M550.4 463.3h.01M279.9 492.2h.01M306.5 529.4h.01M190.9 529.4h.01M297.3 500.5h.01M360.4 508.8h.01M181.2 537.7h.01M201.6 525.3h.01M378.4 479.8h.01M264.6 525.3h.01M157.5 558.4h.01M410.3 488.1h.01M123.3 533.6h.01M111.3 550.1h.01M511.8 529.4h.01M224.3 525.3h.01M224.3 525.3h.01M95.9 554.2h.01M138.3 558.4h.01M189.6 521.2h.01M215.1 529.4h.01M271.0 508.8h.01M325.8 504.6h.01M217.7 529.4h.01M164.8 529.4h.01M248.7 517.0h.01M268.2 525.3h.01M193.8 533.6h.01M176.0 541.8h.01M174.7 521.2h.01M280.5 546.0h.01M147.8 558.4h.01M313.1 521.2h.01M153.2 550.1h.01M240.2 459.2h.01M318.2 496.4h.01M99.0 550.1h.01M262.3 546.0h.01M162.6 550.1h.01M207.2 537.7h.01M139.6 554.2h.01M174.5 529.4h.01M152.8 537.7h.01M288.9 484.0h.01M168.5 554.2h.01M269.7 504.6h.01M313.7 521.2h.01M163.7 521.2h.01M343.2 508.8h.01M274.3 517.0h.01M194.2 517.0h.01M504.5 488.1h.01M109.3 558.4h.01M328.6 512.9h.01M169.3 533.6h.01M141.8 558.4h.01M327.1 496.4h.01M171.1 537.7h.01M243.2 488.1h.01M255.0 492.2h.01M114.5 550.1h.01M235.9 508.8h.01M299.4 504.6h.01M210.2 525.3h.01M481.6 426.1h.01M149.9 546.0h.01M105.1 558.4h.01M341.8 492.2h.01M107.7 558.4h.01M102.6 558.4h.01M226.0 537.7h.01M127.6 558.4h.01M239.1 533.6h.01M126.1 537.7h.01M148.2 500.5h.01M335.8 504.6h.01M240.9 517.0h.01M371.6 471.6h.01M298.1 484.0h.01M305.0 537.7h.01M232.5 525.3h.01M113.2 554.2h.01M382.0 508.8h.01M464.2 488.1h.01M140.9 558.4h.01M282.3 525.3h.01M94.5 554.2h.01M126.8 558.4h.01M391.7 446.8h.01M184.8 529.4h.01M394.2 488.1h.01M183.3 546.0h.01M176.6 533.6h.01M357.2 496.4h.01M249.9 504.6h.01M403.1 471.6h.01M238.2 529.4h.01M131.6 550.1h.01M196.8 521.2h.01M207.3 541.8h.01M144.3 550.1h.01M263.8 533.6h.01M342.3 508.8h.01M212.5 496.4h.01M175.3 558.4h.01M365.1 525.3h.01M121.4 546.0h.01M301.0 475.7h.01M287.2 525.3h.01M266.7 512.9h.01M92.5 558.4h.01M222.9 533.6h.01M143.4 554.2h.01M190.2 546.0h.01M168.3 537.7h.01M140.1 558.4h.01M257.1 525.3h.01M156.0 541.8h.01M182.0 541.8h.01M317.2 496.4h.01M186.5 496.4h.01M120.5 558.4h.01M388.6 508.8h.01M175.1 525.3h.01M137.1 554.2h.01M101.7 554.2h.01M93.8 558.4h.01M261.5 500.5h.01M99.1 541.8h.01M145.9 546.0h.01M118.5 529.4h.01M208.4 554.2h.01M378.8 546.0h.01M93.3 554.2h.01M133.9 521.2h.01M451.9 512.9h.01M332.8 504.6h.01M331.6 488.1h.01M179.4 537.7h.01M356.3 525.3h.01M172.9 541.8h.01M145.8 554.2h.01M301.4 504.6h.01M237.8 525.3h.01M323.0 521.2h.01M283.7 471.6h.01M215.8 529.4h.01M340.5 529.4h.01M136.5 554.2h.01M202.6 525.3h.01M311.6 521.2h.01M103.7 558.4h.01M123.4 546.0h.01M227.4 504.6h.01M481.1 471.6h.01M140.2 558.4h.01M222.1 525.3h.01M150.2 517.0h.01M224.6 475.7h.01M124.7 558.4h.01M188.7 504.6h.01M243.3 537.7h.01M210.3 517.0h.01M180.6 541.8h.01M189.6 525.3h.01M272.4 512.9h.01M150.6 533.6h.01M92.2 558.4h.01M266.1 496.4h.01M171.0 537.7h.01M98.9 558.4h.01M269.1 533.6h.01M263.5 517.0h.01M328.5 504.6h.01M138.7 533.6h.01M471.1 521.2h.01M203.1 529.4h.01M290.1 496.4h.01M240.4 533.6h.01M131.1 537.7h.01M95.4 554.2h.01M295.7 508.8h.01M170.2 546.0h.01M301.8 533.6h.01M230.9 541.8h.01M182.8 504.6h.01M334.2 525.3h.01M99.2 558.4h.01M174.5 558.4h.01M287.6 492.2h.01M126.0 554.2h.01M339.8 488.1h.01M328.1 512.9h.01M121.0 554.2h.01M248.9 546.0h.01M120.7 550.1h.01M103.1 554.2h.01M319.3 521.2h.01M121.3 554.2h.01M345.8 546.0h.01M324.3 517.0h.01M163.4 546.0h.01M132.5 533.6h.01M138.1 546.0h.01M218.7 467.5h.01M329.3 484.0h.01M233.5 508.8h.01M208.9 496.4h.01M276.6 512.9h.01M373.7 475.7h.01M100.9 554.2h.01M238.5 517.0h.01M299.0 488.1h.01M242.5 521.2h.01M368.6 484.0h.01M142.5 550.1h.01M116.8 541.8h.01M177.5 541.8h.01M379.7 450.9h.01M166.9 558.4h.01M183.2 558.4h.01M226.5 533.6h.01M445.7 492.2h.01M314.9 541.8h.01M252.0 529.4h.01M255.5 550.1h.01M398.3 455.1h.01M120.6 558.4h.01M166.0 554.2h.01M351.6 504.6h.01M154.8 533.6h.01M157.6 529.4h.01M177.2 537.7h.01M152.5 546.0h.01M124.3 554.2h.01M174.8 558.4h.01M395.5 504.6h.01M357.0 550.1h.01M509.9 479.8h.01M98.9 558.4h.01M288.5 492.2h.01M154.5 537.7h.01M234.3 529.4h.01M313.0 508.8h.01M277.8 512.9h.01M337.0 517.0h.01M108.1 525.3h.01M312.1 492.2h.01M232.2 546.0h.01M220.4 529.4h.01M213.2 546.0h.01M349.0 496.4h.01M356.4 479.8h.01M92.2 558.4h.01M211.9 529.4h.01M126.9 533.6h.01M107.4 546.0h.01M275.8 484.0h.01M180.5 517.0h.01M393.2 496.4h.01M157.2 512.9h.01M160.3 525.3h.01M220.2 475.7h.01M164.0 488.1h.01M243.6 508.8h.01M236.8 484.0h.01M243.1 475.7h.01M408.8 492.2h.01M108.4 558.4h.01M350.9 496.4h.01M126.8 550.1h.01M590.7 546.0h.01M221.5 525.3h.01M196.7 529.4h.01M128.6 529.4h.01M102.9 558.4h.01M204.1 546.0h.01M408.6 500.5h.01M278.7 533.6h.01M102.7 554.2h.01M400.6 504.6h.01M362.7 500.5h.01M286.3 459.2h.01M190.1 537.7h.01M233.7 541.8h.01M283.9 517.0h.01M307.2 508.8h.01M270.2 521.2h.01M92.2 554.2h.01M132.7 525.3h.01M220.6 517.0h.01M203.0 512.9h.01M288.7 504.6h.01M106.0 541.8h.01M131.8 558.4h.01M366.8 446.8h.01M482.2 442.7h.01M338.9 422.0h.01M150.0 541.8h.01M343.7 438.5h.01M155.6 541.8h.01M92.2 558.4h.01M407.5 492.2h.01M196.9 558.4h.01M221.7 537.7h.01M320.5 512.9h.01M294.6 529.4h.01M166.7 537.7h.01M350.9 508.8h.01M305.2 525.3h.01M101.8 558.4h.01M252.9 521.2h.01M124.3 546.0h.01M363.3 541.8h.01M161.3 533.6h.01M211.5 525.3h.01M411.3 475.7h.01M286.4 492.2h.01M252.7 521.2h.01M166.7 533.6h.01M214.7 521.2h.01M218.1 525.3h.01M180.0 558.4h.01M101.4 558.4h.01M96.4 558.4h.01M317.8 525.3h.01M245.2 450.9h.01M248.2 508.8h.01M302.4 533.6h.01M340.7 484.0h.01M174.0 546.0h.01M131.3 550.1h.01M397.0 529.4h.01M171.9 521.2h.01M131.0 550.1h.01M330.7 467.5h.01M322.5 533.6h.01M274.2 517.0h.01M366.0 533.6h.01M169.8 533.6h.01M135.3 529.4h.01M451.5 463.3h.01M327.3 500.5h.01M196.3 525.3h.01M165.4 546.0h.01M134.4 541.8h.01M160.9 550.1h.01M144.3 554.2h.01M109.9 558.4h.01M220.0 546.0h.01M100.0 550.1h.01M160.2 537.7h.01M337.2 537.7h.01M357.8 508.8h.01M210.0 521.2h.01M100.7 554.2h.01M110.5 550.1h.01M277.3 463.3h.01M151.8 550.1h.01M203.7 546.0h.01M305.9 496.4h.01M123.5 546.0h.01M263.3 525.3h.01M223.1 529.4h.01M261.7 529.4h.01M360.3 488.1h.01M338.6 496.4h.01M101.7 558.4h.01M356.7 525.3h.01M345.1 479.8h.01M503.8 467.5h.01M122.8 554.2h.01M355.2 467.5h.01M196.4 546.0h.01M154.5 558.4h.01M338.2 525.3h.01M92.2 541.8h.01M394.4 467.5h.01M510.4 463.3h.01M274.9 546.0h.01M314.0 529.4h.01M234.7 504.6h.01M188.2 537.7h.01M396.3 504.6h.01M154.9 504.6h.01M103.9 554.2h.01M239.3 537.7h.01M159.3 550.1h.01M106.1 554.2h.01M472.9 467.5h.01M147.4 550.1h.01M363.6 467.5h.01M259.1 504.6h.01M128.2 554.2h.01M474.6 446.8h.01M168.7 533.6h.01M200.7 537.7h.01M296.7 492.2h.01M311.1 554.2h.01M258.1 529.4h.01M259.2 533.6h.01M219.0 529.4h.01M276.3 533.6h.01M216.2 517.0h.01M94.0 558.4h.01M369.8 508.8h.01M244.2 529.4h.01M111.3 554.2h.01M253.2 525.3h.01M181.1 529.4h.01M320.5 467.5h.01M149.6 550.1h.01M162.6 554.2h.01M425.9 529.4h.01M269.4 525.3h.01M225.0 558.4h.01M228.8 529.4h.01M312.7 517.0h.01M215.3 517.0h.01M215.4 508.8h.01M314.1 492.2h.01M286.1 508.8h.01M480.2 484.0h.01M197.2 517.0h.01M98.3 558.4h.01M283.4 475.7h.01M92.2 558.4h.01M288.0 500.5h.01M185.5 533.6h.01M92.3 558.4h.01M280.1 488.1h.01M204.5 546.0h.01M181.6 546.0h.01M371.8 475.7h.01M171.0 554.2h.01M128.4 517.0h.01M358.6 488.1h.01M367.2 475.7h.01M292.3 541.8h.01M137.8 558.4h.01M466.9 550.1h.01M374.5 496.4h.01M172.2 550.1h.01M190.8 546.0h.01M102.1 558.4h.01M324.7 500.5h.01M246.3 517.0h.01M157.3 554.2h.01M156.2 537.7h.01M146.2 521.2h.01M168.8 554.2h.01M132.1 537.7h.01M169.4 533.6h.01M93.5 558.4h.01M537.9 463.3h.01M163.1 521.2h.01M191.4 508.8h.01M274.3 525.3h.01M134.2 558.4h.01M224.1 521.2h.01M105.8 558.4h.01M326.5 504.6h.01M329.3 508.8h.01M109.0 558.4h.01M187.1 537.7h.01M336.9 484.0h.01M100.8 558.4h.01M143.5 558.4h.01M400.2 463.3h.01M473.2 533.6h.01M256.7 512.9h.01M359.9 525.3h.01M229.3 533.6h.01M544.8 496.4h.01M138.9 517.0h.01M323.2 500.5h.01M95.0 558.4h.01M444.2 508.8h.01M266.0 529.4h.01M273.0 504.6h.01M285.1 517.0h.01M209.9 533.6h.01M479.4 500.5h.01M209.0 488.1h.01M341.5 517.0h.01M278.7 517.0h.01M151.2 537.7h.01M154.0 558.4h.01M262.0 521.2h.01M178.6 546.0h.01M282.9 521.2h.01M202.5 529.4h.01M307.0 459.2h.01M322.1 463.3h.01M257.0 517.0h.01M420.1 459.2h.01M149.7 517.0h.01M186.3 541.8h.01M214.6 504.6h.01M105.3 546.0h.01M297.2 484.0h.01M462.3 533.6h.01M486.8 471.6h.01M133.8 558.4h.01M289.1 492.2h.01M382.4 484.0h.01M364.4 479.8h.01M350.0 471.6h.01M247.0 500.5h.01M147.0 533.6h.01M240.6 496.4h.01M296.3 512.9h.01M433.5 517.0h.01M271.3 504.6h.01M237.1 529.4h.01M156.9 533.6h.01M292.6 479.8h.01M360.7 492.2h.01M227.0 504.6h.01M224.9 533.6h.01M242.3 508.8h.01M270.0 537.7h.01M272.9 492.2h.01M137.1 533.6h.01M123.9 554.2h.01M253.2 537.7h.01M251.3 450.9h.01M371.2 479.8h.01M213.8 521.2h.01M191.8 550.1h.01M110.4 558.4h.01M236.0 533.6h.01M108.6 554.2h.01M250.2 504.6h.01M137.2 537.7h.01M250.3 546.0h.01M120.2 550.1h.01M383.4 455.1h.01M323.5 537.7h.01M114.5 546.0h.01M444.0 496.4h.01M262.3 492.2h.01M170.5 533.6h.01M210.1 504.6h.01M128.8 550.1h.01M135.0 541.8h.01M103.8 554.2h.01M216.3 517.0h.01M278.8 504.6h.01M199.9 546.0h.01M183.4 492.2h.01M178.1 529.4h.01M232.0 521.2h.01M270.9 529.4h.01M172.8 529.4h.01M318.1 484.0h.01M203.5 537.7h.01M121.3 541.8h.01M115.4 541.8h.01M125.3 554.2h.01M346.7 500.5h.01M93.0 554.2h.01M142.4 554.2h.01M226.3 508.8h.01M97.3 558.4h.01M504.9 508.8h.01M152.8 512.9h.01M175.2 525.3h.01M222.0 517.0h.01M267.7 500.5h.01M501.6 442.7h.01M355.1 508.8h.01M471.5 512.9h.01M188.3 529.4h.01M377.9 488.1h.01M231.1 537.7h.01M293.6 517.0h.01M446.3 479.8h.01M296.6 496.4h.01M162.1 558.4h.01M149.3 525.3h.01M161.2 525.3h.01M386.2 438.5h.01M383.8 471.6h.01M146.0 529.4h.01M165.9 537.7h.01M213.1 467.5h.01M208.0 525.3h.01M181.8 554.2h.01M110.8 558.4h.01M191.6 525.3h.01M220.4 517.0h.01M287.4 529.4h.01M188.1 521.2h.01M151.1 504.6h.01M136.2 537.7h.01M217.3 529.4h.01M165.5 558.4h.01M135.7 533.6h.01M318.0 484.0h.01M124.8 550.1h.01M191.2 558.4h.01M448.1 492.2h.01M163.2 558.4h.01M176.1 541.8h.01M363.8 484.0h.01M367.3 504.6h.01M119.4 546.0h.01M159.4 546.0h.01M119.3 558.4h.01M136.9 546.0h.01M163.8 529.4h.01M218.0 558.4h.01M195.2 525.3h.01M455.8 492.2h.01M514.9 459.2h.01M293.4 521.2h.01M347.3 508.8h.01M230.9 471.6h.01M100.2 558.4h.01M109.4 529.4h.01M199.0 512.9h.01M239.1 508.8h.01M157.4 541.8h.01M178.4 546.0h.01M103.2 558.4h.01M350.8 508.8h.01M112.5 558.4h.01M372.5 500.5h.01M354.4 455.1h.01M186.2 517.0h.01M228.2 550.1h.01M299.7 488.1h.01M102.5 529.4h.01M143.0 529.4h.01M214.6 533.6h.01M213.9 533.6h.01M187.0 529.4h.01M235.2 496.4h.01M103.0 554.2h.01M312.5 508.8h.01M106.5 558.4h.01M277.1 525.3h.01M189.9 550.1h.01M92.2 558.4h.01M233.6 508.8h.01M206.3 541.8h.01M106.1 533.6h.01M361.0 471.6h.01M126.3 546.0h.01M149.6 525.3h.01M160.3 533.6h.01M309.1 558.4h.01M125.6 554.2h.01M152.0 558.4h.01M177.1 537.7h.01M104.4 550.1h.01M302.7 492.2h.01M191.4 541.8h.01M165.1 537.7h.01M144.0 558.4h.01M195.5 484.0h.01M182.8 550.1h.01M220.2 496.4h.01M195.3 479.8h.01M277.6 450.9h.01M174.2 521.2h.01M351.9 463.3h.01M259.4 521.2h.01M398.8 459.2h.01M296.4 512.9h.01M242.4 450.9h.01M166.0 558.4h.01M413.8 467.5h.01M175.9 541.8h.01M179.6 541.8h.01M230.3 508.8h.01M112.6 537.7h.01M124.1 550.1h.01M211.2 521.2h.01M225.3 537.7h.01M374.1 525.3h.01M257.2 471.6h.01M182.4 521.2h.01M357.3 550.1h.01M228.3 521.2h.01M207.7 496.4h.01M135.4 541.8h.01M315.0 488.1h.01M202.3 537.7h.01M230.6 546.0h.01M130.2 537.7h.01M327.5 508.8h.01M314.3 525.3h.01M571.0 459.2h.01M171.7 529.4h.01M106.4 546.0h.01M203.8 546.0h.01M320.9 492.2h.01M189.1 488.1h.01M487.3 525.3h.01M241.2 533.6h.01M139.6 558.4h.01M276.9 525.3h.01M478.3 508.8h.01M220.3 537.7h.01M135.6 546.0h.01M409.8 492.2h.01M286.5 496.4h.01M120.0 558.4h.01M412.5 484.0h.01M302.7 558.4h.01M139.7 541.8h.01M306.3 496.4h.01M112.6 537.7h.01M311.0 533.6h.01M497.8 463.3h.01M109.6 558.4h.01M369.7 525.3h.01M153.9 554.2h.01M172.7 525.3h.01M282.7 529.4h.01M120.9 558.4h.01M311.7 504.6h.01M324.0 529.4h.01M155.4 508.8h.01M154.3 525.3h.01M180.5 558.4h.01M182.9 525.3h.01M218.4 558.4h.01M212.8 533.6h.01M294.9 541.8h.01M143.4 546.0h.01M247.8 512.9h.01M193.4 541.8h.01M282.9 500.5h.01M295.1 512.9h.01M132.0 525.3h.01M183.4 541.8h.01M193.6 550.1h.01M179.6 521.2h.01M211.8 533.6h.01M368.3 479.8h.01M113.0 546.0h.01M92.8 558.4h.01M250.4 484.0h.01M228.3 500.5h.01M579.7 442.7h.01M276.1 550.1h.01M199.4 537.7h.01M285.0 537.7h.01M385.2 508.8h.01M309.2 541.8h.01M235.6 517.0h.01M326.2 504.6h.01M180.1 521.2h.01M418.4 471.6h.01M121.0 533.6h.01M184.0 512.9h.01M285.5 455.1h.01M542.9 463.3h.01M351.1 533.6h.01M377.8 496.4h.01M358.3 537.7h.01M164.5 529.4h.01M108.6 537.7h.01M256.5 463.3h.01M340.5 517.0h.01M447.4 484.0h.01M497.0 475.7h.01M157.7 558.4h.01M96.1 558.4h.01M259.6 554.2h.01M326.5 517.0h.01M144.8 558.4h.01M303.8 463.3h.01M156.5 550.1h.01M224.7 517.0h.01M171.7 550.1h.01M123.0 165.8h.01M445.9 165.8h.01M264.7 194.7h.01M620.8 194.7h.01M728.1 194.7h.01M305.7 211.2h.01M303.7 223.6h.01M724.9 223.6h.01M310.7 227.8h.01M265.4 248.4h.01M288.7 265.0h.01M689.8 265.0h.01M777.9 265.0h.01M322.7 277.4h.01M723.4 277.4h.01M753.2 277.4h.01M392.8 178.2h.01M426.8 215.4h.01M381.5 219.5h.01M566.7 219.5h.01M591.5 219.5h.01M385.0 236.0h.01M747.2 236.0h.01M791.4 236.0h.01M437.9 240.2h.01M461.9 240.2h.01M505.4 240.2h.01M478.9 252.6h.01M793.5 252.6h.01M387.6 260.8h.01M650.6 260.8h.01M352.5 273.2h.01M779.7 273.2h.01M467.1 281.5h.01M479.6 281.5h.01M554.2 281.5h.01M564.2 281.5h.01M705.4 281.5h.01M396.1 289.7h.01M754.9 289.7h.01M792.2 289.7h.01M746.4 149.2h.01M650.6 161.6h.01M686.3 161.6h.01M706.1 182.3h.01M622.3 203.0h.01M701.9 207.1h.01M657.6 244.3h.01M662.6 256.7h.01M603.8 269.1h.01M697.6 269.1h.01M638.8 293.9h.01M691.6 293.9h.01M724.6 293.9h.01M341.0 298.0h.01M540.5 298.0h.01M732.4 298.0h.01M762.4 302.1h.01M800.2 302.1h.01M649.1 306.3h.01M675.3 306.3h.01M689.1 306.3h.01M374.3 310.4h.01M459.1 310.4h.01M261.9 314.5h.01M431.1 314.5h.01M548.7 314.5h.01M651.3 314.5h.01M770.9 314.5h.01M300.2 318.7h.01M488.2 318.7h.01M497.9 318.7h.01M551.2 318.7h.01M559.2 318.7h.01M661.6 318.7h.01M684.1 318.7h.01M754.2 318.7h.01M226.1 322.8h.01M267.2 322.8h.01M425.3 322.8h.01M652.1 322.8h.01M328.5 326.9h.01M493.4 326.9h.01M694.1 326.9h.01M719.6 326.9h.01M738.6 326.9h.01M803.5 326.9h.01M358.8 331.1h.01M565.2 331.1h.01M611.5 331.1h.01M694.1 331.1h.01M758.9 331.1h.01M486.9 335.2h.01M537.7 335.2h.01M600.3 335.2h.01M723.1 335.2h.01M188.6 339.3h.01M267.9 339.3h.01M287.7 339.3h.01M370.5 339.3h.01M485.6 339.3h.01M513.9 339.3h.01M582.5 339.3h.01M678.8 339.3h.01M718.4 339.3h.01M187.6 343.5h.01M358.8 343.5h.01M392.3 343.5h.01M394.8 343.5h.01M420.1 343.5h.01M475.1 343.5h.01M498.4 343.5h.01M542.7 343.5h.01M742.9 343.5h.01M414.1 347.6h.01M471.1 347.6h.01M545.0 347.6h.01M635.3 347.6h.01M658.3 347.6h.01M790.9 347.6h.01M180.9 351.7h.01M244.2 351.7h.01M339.8 351.7h.01M489.9 351.7h.01M567.7 351.7h.01M586.3 351.7h.01M602.0 351.7h.01M665.8 351.7h.01M714.6 351.7h.01M800.2 351.7h.01M242.2 355.9h.01M582.5 355.9h.01M640.0 355.9h.01M665.8 355.9h.01M675.3 355.9h.01M691.6 355.9h.01M718.4 355.9h.01M723.4 355.9h.01M785.4 355.9h.01M214.9 360.0h.01M231.4 360.0h.01M283.2 360.0h.01M444.6 360.0h.01M475.4 360.0h.01M524.9 360.0h.01M572.7 360.0h.01M634.5 360.0h.01M696.6 360.0h.01M749.7 360.0h.01M785.9 360.0h.01M261.2 364.1h.01M310.5 364.1h.01M548.7 364.1h.01M665.8 364.1h.01M744.2 364.1h.01M767.7 364.1h.01M291.7 368.3h.01M370.5 368.3h.01M506.2 368.3h.01M523.7 368.3h.01M630.8 368.3h.01M660.8 368.3h.01M690.3 368.3h.01M698.4 368.3h.01M719.6 368.3h.01M282.2 372.4h.01M294.0 372.4h.01M421.6 372.4h.01M605.8 372.4h.01M677.8 372.4h.01M690.8 372.4h.01M704.1 372.4h.01M747.7 372.4h.01M206.6 376.5h.01M345.5 376.5h.01M399.6 376.5h.01M410.8 376.5h.01M471.9 376.5h.01M528.2 376.5h.01M609.5 376.5h.01M645.8 376.5h.01M723.4 376.5h.01M754.2 376.5h.01M793.5 376.5h.01M226.9 380.7h.01M288.5 380.7h.01M313.0 380.7h.01M493.2 380.7h.01M529.2 380.7h.01M540.7 380.7h.01M593.0 380.7h.01M650.8 380.7h.01M682.1 380.7h.01M702.1 380.7h.01M337.8 384.8h.01M363.5 384.8h.01M438.1 384.8h.01M475.1 384.8h.01M702.1 384.8h.01M769.2 384.8h.01M122.0 388.9h.01M243.2 388.9h.01M332.8 388.9h.01M383.0 388.9h.01M438.6 388.9h.01M478.6 388.9h.01M546.7 388.9h.01M561.7 388.9h.01M640.0 388.9h.01M657.6 388.9h.01M664.6 388.9h.01M684.6 388.9h.01M746.4 388.9h.01M768.0 388.9h.01M184.1 393.1h.01M305.5 393.1h.01M395.3 393.1h.01M433.6 393.1h.01M461.9 393.1h.01M538.2 393.1h.01M563.7 393.1h.01M577.7 393.1h.01M612.0 393.1h.01M670.8 393.1h.01M687.1 393.1h.01M796.7 393.1h.01M410.6 397.2h.01M438.6 397.2h.01M449.9 397.2h.01M458.6 397.2h.01M477.4 397.2h.01M558.2 397.2h.01M565.0 397.2h.01M659.6 397.2h.01M664.6 397.2h.01M218.4 401.3h.01M318.2 401.3h.01M361.0 401.3h.01M370.5 401.3h.01M388.1 401.3h.01M462.4 401.3h.01M478.6 401.3h.01M492.4 401.3h.01M540.0 401.3h.01M570.0 401.3h.01M591.3 401.3h.01M643.3 401.3h.01M674.6 401.3h.01M688.3 401.3h.01M757.2 401.3h.01M774.2 401.3h.01M789.7 401.3h.01M799.2 401.3h.01M200.4 405.5h.01M335.5 405.5h.01M413.6 405.5h.01M423.6 405.5h.01M428.6 405.5h.01M437.4 405.5h.01M463.6 405.5h.01M473.1 405.5h.01M494.9 405.5h.01M501.2 405.5h.01M512.4 405.5h.01M522.4 405.5h.01M527.4 405.5h.01M541.2 405.5h.01M571.2 405.5h.01M580.0 405.5h.01M602.0 405.5h.01M607.0 405.5h.01M618.3 405.5h.01M622.0 405.5h.01M654.6 405.5h.01M712.9 405.5h.01M124.5 409.6h.01M314.0 409.6h.01M330.0 409.6h.01M348.0 409.6h.01M366.0 409.6h.01M417.3 409.6h.01M441.1 409.6h.01M453.6 409.6h.01M492.4 409.6h.01M498.7 409.6h.01M522.4 409.6h.01M548.2 409.6h.01M633.3 409.6h.01M698.4 409.6h.01M722.1 409.6h.01M774.2 409.6h.01M260.2 413.7h.01M335.0 413.7h.01M362.3 413.7h.01M418.6 413.7h.01M442.4 413.7h.01M453.6 413.7h.01M489.9 413.7h.01M547.5 413.7h.01M610.8 413.7h.01M653.3 413.7h.01M670.8 413.7h.01M722.1 413.7h.01M734.1 413.7h.01M776.7 413.7h.01M801.0 413.7h.01M263.4 417.9h.01M293.0 417.9h.01M303.5 417.9h.01M307.7 417.9h.01M342.3 417.9h.01M367.3 417.9h.01M417.3 417.9h.01M437.4 417.9h.01M446.1 417.9h.01M456.1 417.9h.01M486.2 417.9h.01M499.9 417.9h.01M519.9 417.9h.01M546.2 417.9h.01M568.7 417.9h.01M592.0 417.9h.01M619.5 417.9h.01M633.3 417.9h.01M652.1 417.9h.01M664.6 417.9h.01M679.6 417.9h.01M703.4 417.9h.01M720.9 417.9h.01M267.7 422.0h.01M605.8 422.0h.01M643.3 422.0h.01M649.6 422.0h.01M667.1 422.0h.01M679.6 422.0h.01M748.9 422.0h.01M784.7 422.0h.01M213.4 426.1h.01M258.4 426.1h.01M301.5 426.1h.01M331.5 426.1h.01M603.3 426.1h.01M614.5 426.1h.01M665.8 426.1h.01M719.6 426.1h.01M757.2 426.1h.01M807.7 426.1h.01M184.1 430.3h.01M256.4 430.3h.01M267.2 430.3h.01M289.0 430.3h.01M317.7 430.3h.01M320.5 430.3h.01M330.0 430.3h.01M659.6 430.3h.01M723.4 430.3h.01M728.4 430.3h.01M762.2 430.3h.01M769.7 430.3h.01M782.2 430.3h.01M226.9 434.4h.01M238.2 434.4h.01M246.4 434.4h.01M252.7 434.4h.01M321.5 434.4h.01M330.0 434.4h.01M602.0 434.4h.01M612.0 434.4h.01M645.8 434.4h.01M724.6 434.4h.01M764.7 434.4h.01M206.6 438.5h.01M236.4 438.5h.01M257.7 438.5h.01M272.7 438.5h.01M281.5 438.5h.01M300.2 438.5h.01M315.0 438.5h.01M327.7 438.5h.01M602.0 438.5h.01M610.8 438.5h.01M630.8 438.5h.01M678.3 438.5h.01M682.1 438.5h.01M707.1 438.5h.01M750.9 438.5h.01M770.9 438.5h.01M807.7 438.5h.01M172.6 442.7h.01M176.3 442.7h.01M155.1 446.8h.01M161.3 446.8h.01M190.1 446.8h.01M193.9 446.8h.01M208.4 446.8h.01M177.6 450.9h.01M218.4 450.9h.01M123.8 455.1h.01M182.6 455.1h.01M210.1 455.1h.01M232.2 455.1h.01M93.8 459.2h.01M152.6 459.2h.01M190.1 459.2h.01M130.8 463.3h.01M154.3 463.3h.01M187.6 463.3h.01M192.6 463.3h.01M203.9 463.3h.01M224.6 463.3h.01M142.6 467.5h.01M165.1 467.5h.01M188.9 467.5h.01M215.1 467.5h.01M148.8 475.7h.01M168.8 475.7h.01M155.1 479.8h.01M143.8 484.0h.01M162.6 484.0h.01M136.3 492.2h.01M125.8 492.2h.01M125.8 500.5h.01M112.0 504.6h.01M97.0 525.3h.01M607.0 442.7h.01M633.3 442.7h.01M649.6 442.7h.01M672.1 442.7h.01M692.1 442.7h.01M759.2 442.7h.01M788.4 442.7h.01M598.3 446.8h.01M727.1 446.8h.01M791.0 446.8h.01M632.0 450.9h.01M664.6 450.9h.01M668.3 450.9h.01M690.8 450.9h.01M713.9 450.9h.01M732.1 450.9h.01M771.7 450.9h.01M597.0 455.1h.01M614.0 455.1h.01M801.7 455.1h.01M597.0 459.2h.01M674.6 459.2h.01M680.1 459.2h.01M742.2 459.2h.01M804.7 459.2h.01M600.8 463.3h.01M707.1 463.3h.01M713.9 463.3h.01M740.9 463.3h.01M752.2 463.3h.01M792.2 463.3h.01M605.8 467.5h.01M616.3 467.5h.01M642.0 467.5h.01M652.0 467.5h.01M662.0 467.5h.01M670.8 467.5h.01M687.0 467.5h.01M723.9 467.5h.01M732.9 467.5h.01M613.3 471.6h.01M662.0 471.6h.01M673.3 471.6h.01M686.6 471.6h.01M796.0 471.6h.01M599.5 475.7h.01M604.5 475.7h.01M657.0 475.7h.01M674.6 475.7h.01M605.8 479.8h.01M639.5 479.8h.01M654.6 479.8h.01M664.6 479.8h.01M700.1 479.8h.01M773.4 479.8h.01M602.0 484.0h.01M624.5 484.0h.01M639.5 484.0h.01M648.3 484.0h.01M722.1 484.0h.01M603.3 488.1h.01M610.8 488.1h.01M630.8 488.1h.01M683.8 488.1h.01M711.4 488.1h.01M749.7 488.1h.01M612.0 492.2h.01M624.5 492.2h.01M662.0 492.2h.01M669.6 492.2h.01M781.0 492.2h.01M593.0 496.4h.01M602.0 496.4h.01M612.0 496.4h.01M651.3 496.4h.01M660.8 496.4h.01M747.7 496.4h.01M773.4 496.4h.01M796.0 496.4h.01M629.5 500.5h.01M751.4 500.5h.01M602.8 504.6h.01M629.5 504.6h.01M657.6 504.6h.01M630.8 508.8h.01M664.6 508.8h.01M796.7 508.8h.01M668.3 512.9h.01M700.9 512.9h.01M726.6 512.9h.01M626.5 517.0h.01M712.1 521.2h.01M637.0 525.3h.01M731.6 525.3h.01M771.7 525.3h.01M620.8 529.4h.01M632.5 529.4h.01M595.0 533.6h.01M677.8 533.6h.01M766.7 533.6h.01M735.1 537.7h.01M796.0 537.7h.01M629.0 541.8h.01M782.9 550.1h.01M737.9 554.2h.01M761.7 558.4h.01M594.6 422.0h.01M645.3 438.5h.01M676.5 442.7h.01" stroke="#4472c4" stroke-width="9.6" stroke-linecap="round" fill="none"/>
<line x1="92.0" y1="561.1" x2="808.6" y2="362.5" stroke="#ff0000" stroke-width="2.6" stroke-linecap="round"/>
<g font-size="14.6"><text x="75.5" y="71.5" text-anchor="end">120</text><text x="75.5" y="154.2" text-anchor="end">100</text><text x="75.5" y="236.7" text-anchor="end">80</text><text x="75.5" y="319.1" text-anchor="end">60</text><text x="75.5" y="401.6" text-anchor="end">40</text><text x="75.5" y="484.2" text-anchor="end">20</text><text x="75.5" y="566.7" text-anchor="end">0</text><text x="89.6" y="587.5" text-anchor="middle">$0.00</text><text x="233.6" y="587.5" text-anchor="middle">$2,000,000.00</text><text x="377.4" y="587.5" text-anchor="middle">$4,000,000.00</text><text x="521.0" y="587.5" text-anchor="middle">$6,000,000.00</text><text x="664.6" y="587.5" text-anchor="middle">$8,000,000.00</text><text x="808.2" y="587.5" text-anchor="middle">$10,000,000.00</text><text x="952.4" y="587.5" text-anchor="middle">$12,000,000.00</text>
<text x="860.4" y="325.3" text-anchor="middle" font-size="14">y = 5E-06x</text>
<text x="860.4" y="344.9" text-anchor="middle" font-size="14.5">R<tspan font-size="9" dy="-5">2</tspan><tspan dy="5"> = 0.7283</tspan></text>
</g>
<text x="511.8" y="38.2" text-anchor="middle" font-size="21" letter-spacing="0.43">2019 Revenue vs Employees</text>
<text x="521" y="614.5" text-anchor="middle" font-size="15.4">Revenue</text>
<text transform="translate(40.5 313) rotate(-90)" text-anchor="middle" font-size="16">Employees</text>
</svg>
</body></html>
